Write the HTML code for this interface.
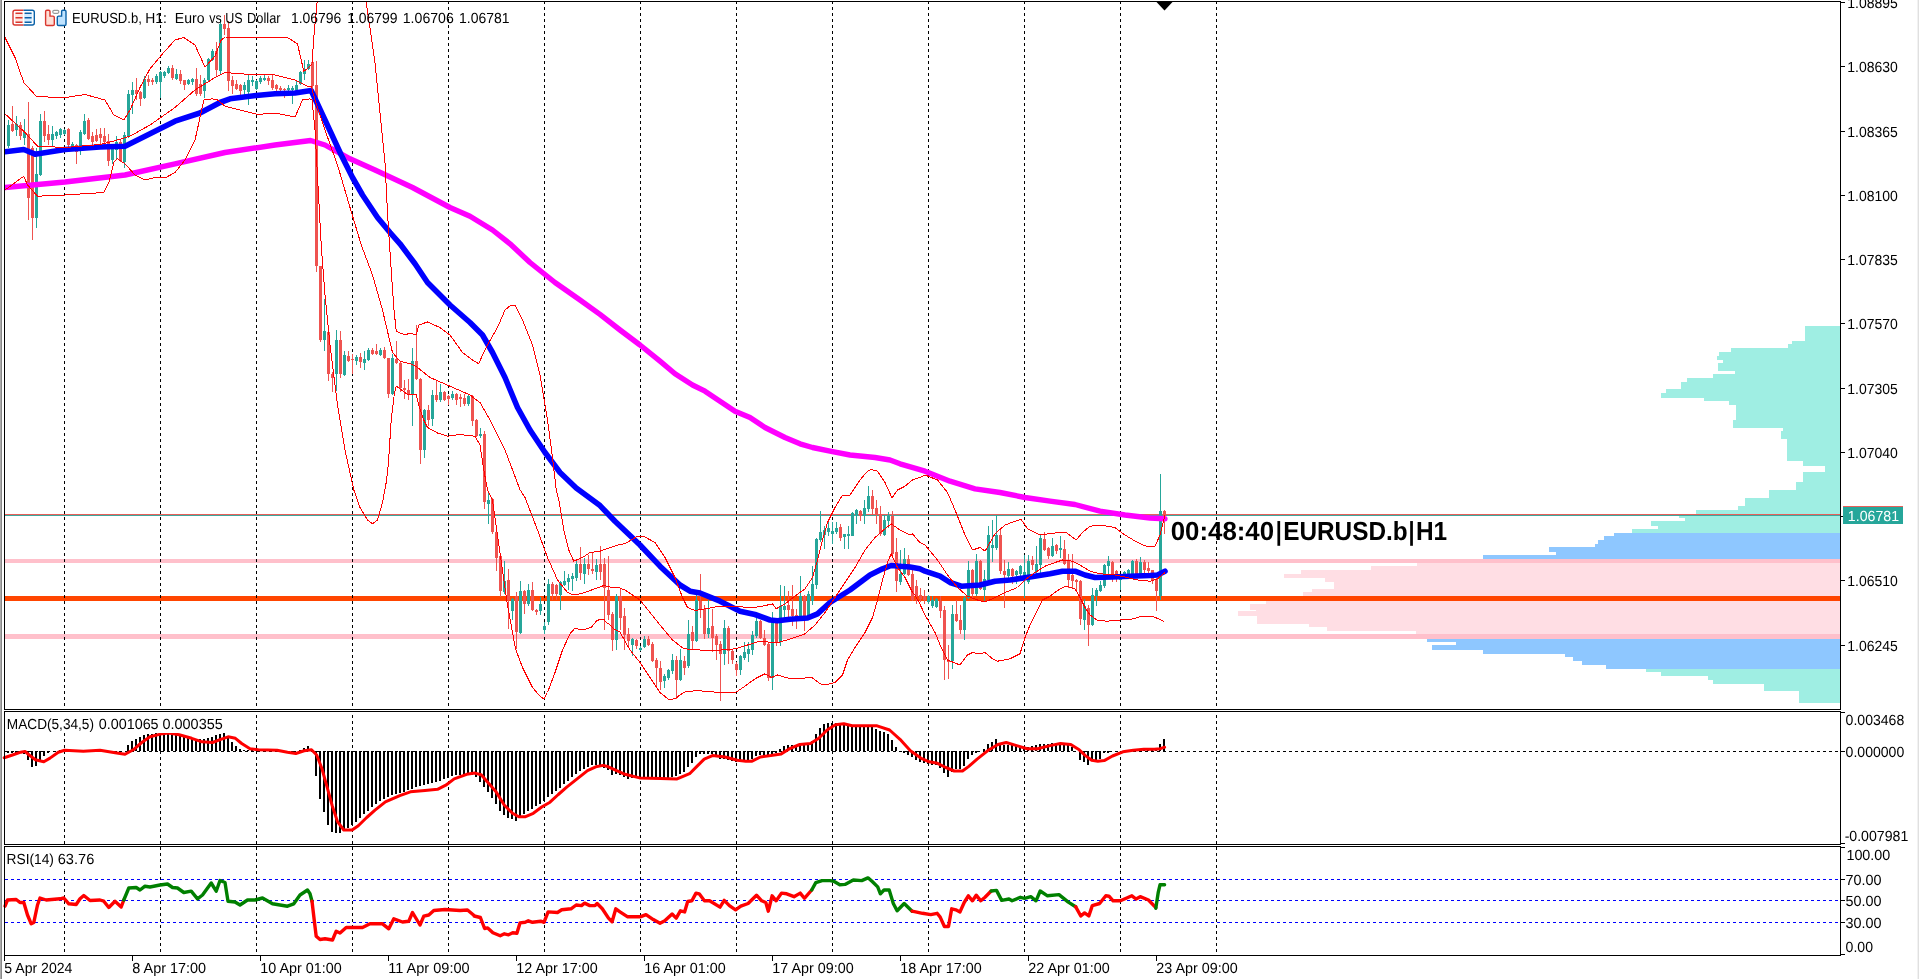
<!DOCTYPE html><html><head><meta charset="utf-8"><title>EURUSD.b H1</title><style>text{-webkit-font-smoothing:antialiased;text-rendering:geometricPrecision}svg{will-change:transform}html,body{margin:0;padding:0;background:#fff;overflow:hidden}body{width:1919px;height:979px;font-family:"Liberation Sans",sans-serif}</style></head><body><svg width="1919" height="979" viewBox="0 0 1919 979" font-family="Liberation Sans, sans-serif" style="display:block">
<rect x="0" y="0" width="1919" height="979" fill="#fff" />
<rect x="0" y="0" width="1" height="979" fill="#ABABAB" />
<rect x="1" y="0" width="1" height="979" fill="#888888" />
<rect x="1917" y="0" width="1" height="979" fill="#F2F2F2" />
<rect x="1918" y="0" width="1" height="979" fill="#E0E0E0" />
<g shape-rendering="crispEdges">
<rect x="1805" y="326" width="35" height="15" fill="#9FEEE3" />
<rect x="1792" y="341" width="48" height="3" fill="#9FEEE3" />
<rect x="1788" y="344" width="52" height="4" fill="#9FEEE3" />
<rect x="1731" y="348" width="109" height="4" fill="#9FEEE3" />
<rect x="1719" y="352" width="121" height="4" fill="#9FEEE3" />
<rect x="1717" y="356" width="123" height="4" fill="#9FEEE3" />
<rect x="1723" y="360" width="117" height="3" fill="#9FEEE3" />
<rect x="1718" y="363" width="122" height="8" fill="#9FEEE3" />
<rect x="1735" y="371" width="105" height="3" fill="#9FEEE3" />
<rect x="1713" y="374" width="127" height="4" fill="#9FEEE3" />
<rect x="1687" y="378" width="153" height="4" fill="#9FEEE3" />
<rect x="1681" y="382" width="159" height="7" fill="#9FEEE3" />
<rect x="1666" y="389" width="174" height="4" fill="#9FEEE3" />
<rect x="1661" y="393" width="179" height="5" fill="#9FEEE3" />
<rect x="1704" y="398" width="136" height="3" fill="#9FEEE3" />
<rect x="1729" y="401" width="111" height="4" fill="#9FEEE3" />
<rect x="1736" y="405" width="104" height="15" fill="#9FEEE3" />
<rect x="1733" y="420" width="107" height="8" fill="#9FEEE3" />
<rect x="1783" y="428" width="57" height="3" fill="#9FEEE3" />
<rect x="1781" y="431" width="59" height="8" fill="#9FEEE3" />
<rect x="1787" y="439" width="53" height="22" fill="#9FEEE3" />
<rect x="1803" y="461" width="37" height="5" fill="#9FEEE3" />
<rect x="1825" y="466" width="15" height="6" fill="#9FEEE3" />
<rect x="1803" y="472" width="37" height="10" fill="#9FEEE3" />
<rect x="1796" y="482" width="44" height="8" fill="#9FEEE3" />
<rect x="1769" y="490" width="71" height="8" fill="#9FEEE3" />
<rect x="1745" y="498" width="95" height="8" fill="#9FEEE3" />
<rect x="1738" y="506" width="102" height="4" fill="#9FEEE3" />
<rect x="1696" y="510" width="144" height="8" fill="#9FEEE3" />
<rect x="1679" y="516" width="161" height="2" fill="#9FEEE3" />
<rect x="1685" y="518" width="155" height="3" fill="#9FEEE3" />
<rect x="1651" y="521" width="189" height="5" fill="#9FEEE3" />
<rect x="1658" y="526" width="182" height="3" fill="#9FEEE3" />
<rect x="1632" y="529" width="208" height="4" fill="#9FEEE3" />
<rect x="1614" y="533" width="226" height="3" fill="#8EC7FF" />
<rect x="1604" y="536" width="236" height="4" fill="#8EC7FF" />
<rect x="1598" y="540" width="242" height="4" fill="#8EC7FF" />
<rect x="1595" y="544" width="245" height="3" fill="#8EC7FF" />
<rect x="1549" y="547" width="291" height="5" fill="#8EC7FF" />
<rect x="1556" y="552" width="284" height="3" fill="#8EC7FF" />
<rect x="1483" y="555" width="357" height="4" fill="#8EC7FF" />
<rect x="1417" y="563" width="423" height="3" fill="#FFDEE4" />
<rect x="1371" y="566" width="469" height="4" fill="#FFDEE4" />
<rect x="1301" y="570" width="539" height="4" fill="#FFDEE4" />
<rect x="1284" y="574" width="556" height="4" fill="#FFDEE4" />
<rect x="1325" y="578" width="515" height="4" fill="#FFDEE4" />
<rect x="1334" y="582" width="506" height="7" fill="#FFDEE4" />
<rect x="1312" y="589" width="528" height="3" fill="#FFDEE4" />
<rect x="1303" y="592" width="537" height="6" fill="#FFDEE4" />
<rect x="1266" y="598" width="574" height="6" fill="#FFDEE4" />
<rect x="1250" y="604" width="590" height="6" fill="#FFDEE4" />
<rect x="1256" y="610" width="584" height="1" fill="#FFDEE4" />
<rect x="1238" y="611" width="602" height="5" fill="#FFDEE4" />
<rect x="1257" y="616" width="583" height="8" fill="#FFDEE4" />
<rect x="1309" y="624" width="531" height="3" fill="#FFDEE4" />
<rect x="1327" y="627" width="513" height="4" fill="#FFDEE4" />
<rect x="1416" y="631" width="424" height="3" fill="#FFDEE4" />
<rect x="1427" y="639" width="413" height="3" fill="#8EC7FF" />
<rect x="1456" y="642" width="384" height="3" fill="#8EC7FF" />
<rect x="1432" y="645" width="408" height="5" fill="#8EC7FF" />
<rect x="1483" y="650" width="357" height="4" fill="#8EC7FF" />
<rect x="1565" y="654" width="275" height="3" fill="#8EC7FF" />
<rect x="1573" y="657" width="267" height="4" fill="#8EC7FF" />
<rect x="1582" y="661" width="258" height="4" fill="#8EC7FF" />
<rect x="1606" y="665" width="234" height="4" fill="#8EC7FF" />
<rect x="1646" y="669" width="194" height="3" fill="#9FEEE3" />
<rect x="1661" y="672" width="179" height="4" fill="#9FEEE3" />
<rect x="1708" y="676" width="132" height="4" fill="#9FEEE3" />
<rect x="1713" y="680" width="127" height="4" fill="#9FEEE3" />
<rect x="1764" y="684" width="76" height="7" fill="#9FEEE3" />
<rect x="1799" y="691" width="41" height="12" fill="#9FEEE3" />
<rect x="5" y="559" width="1835" height="4" fill="#FFC0CB" />
<rect x="5" y="634" width="1835" height="5" fill="#FFC0CB" />
<rect x="5" y="596" width="1835" height="5" fill="#FF4500" />
</g>
<g shape-rendering="crispEdges" stroke="#000" stroke-width="1" stroke-dasharray="3,3">
<line x1="64.5" y1="1" x2="64.5" y2="709"/>
<line x1="64.5" y1="715" x2="64.5" y2="844"/>
<line x1="64.5" y1="847" x2="64.5" y2="955"/>
<line x1="160.5" y1="1" x2="160.5" y2="709"/>
<line x1="160.5" y1="715" x2="160.5" y2="844"/>
<line x1="160.5" y1="847" x2="160.5" y2="955"/>
<line x1="256.5" y1="1" x2="256.5" y2="709"/>
<line x1="256.5" y1="715" x2="256.5" y2="844"/>
<line x1="256.5" y1="847" x2="256.5" y2="955"/>
<line x1="352.5" y1="1" x2="352.5" y2="709"/>
<line x1="352.5" y1="715" x2="352.5" y2="844"/>
<line x1="352.5" y1="847" x2="352.5" y2="955"/>
<line x1="448.5" y1="1" x2="448.5" y2="709"/>
<line x1="448.5" y1="715" x2="448.5" y2="844"/>
<line x1="448.5" y1="847" x2="448.5" y2="955"/>
<line x1="544.5" y1="1" x2="544.5" y2="709"/>
<line x1="544.5" y1="715" x2="544.5" y2="844"/>
<line x1="544.5" y1="847" x2="544.5" y2="955"/>
<line x1="640.5" y1="1" x2="640.5" y2="709"/>
<line x1="640.5" y1="715" x2="640.5" y2="844"/>
<line x1="640.5" y1="847" x2="640.5" y2="955"/>
<line x1="736.5" y1="1" x2="736.5" y2="709"/>
<line x1="736.5" y1="715" x2="736.5" y2="844"/>
<line x1="736.5" y1="847" x2="736.5" y2="955"/>
<line x1="832.5" y1="1" x2="832.5" y2="709"/>
<line x1="832.5" y1="715" x2="832.5" y2="844"/>
<line x1="832.5" y1="847" x2="832.5" y2="955"/>
<line x1="928.5" y1="1" x2="928.5" y2="709"/>
<line x1="928.5" y1="715" x2="928.5" y2="844"/>
<line x1="928.5" y1="847" x2="928.5" y2="955"/>
<line x1="1024.5" y1="1" x2="1024.5" y2="709"/>
<line x1="1024.5" y1="715" x2="1024.5" y2="844"/>
<line x1="1024.5" y1="847" x2="1024.5" y2="955"/>
<line x1="1120.5" y1="1" x2="1120.5" y2="709"/>
<line x1="1120.5" y1="715" x2="1120.5" y2="844"/>
<line x1="1120.5" y1="847" x2="1120.5" y2="955"/>
<line x1="1216.5" y1="1" x2="1216.5" y2="709"/>
<line x1="1216.5" y1="715" x2="1216.5" y2="844"/>
<line x1="1216.5" y1="847" x2="1216.5" y2="955"/>
<line x1="5" y1="751.5" x2="1840" y2="751.5"/>
</g>
<g shape-rendering="crispEdges" stroke="#0000FF" stroke-width="1" stroke-dasharray="3,3">
<line x1="5" y1="879.5" x2="1840" y2="879.5"/>
<line x1="5" y1="900.5" x2="1840" y2="900.5"/>
<line x1="5" y1="922.5" x2="1840" y2="922.5"/>
</g>
<g shape-rendering="crispEdges">
<rect x="5" y="514" width="1835" height="1" fill="#E8605A" />
<rect x="5" y="515" width="1835" height="1" fill="#3FA79D" />
</g>
<g shape-rendering="crispEdges">
<rect x="8" y="120" width="1" height="28" fill="#26A69A" />
<rect x="7" y="125" width="3" height="21" fill="#26A69A" />
<rect x="12" y="106" width="1" height="26" fill="#EF5350" />
<rect x="11" y="124" width="3" height="7" fill="#EF5350" />
<rect x="16" y="116" width="1" height="20" fill="#26A69A" />
<rect x="15" y="124" width="3" height="6" fill="#26A69A" />
<rect x="20" y="122" width="1" height="18" fill="#EF5350" />
<rect x="19" y="125" width="3" height="11" fill="#EF5350" />
<rect x="24" y="119" width="1" height="26" fill="#26A69A" />
<rect x="23" y="132" width="3" height="6" fill="#26A69A" />
<rect x="28" y="102" width="1" height="118" fill="#EF5350" />
<rect x="27" y="134" width="3" height="64" fill="#EF5350" />
<rect x="32" y="146" width="1" height="94" fill="#EF5350" />
<rect x="31" y="148" width="3" height="70" fill="#EF5350" />
<rect x="36" y="148" width="1" height="80" fill="#26A69A" />
<rect x="35" y="174" width="3" height="44" fill="#26A69A" />
<rect x="40" y="114" width="1" height="62" fill="#26A69A" />
<rect x="39" y="121" width="3" height="54" fill="#26A69A" />
<rect x="44" y="111" width="1" height="31" fill="#EF5350" />
<rect x="43" y="121" width="3" height="15" fill="#EF5350" />
<rect x="48" y="125" width="1" height="20" fill="#EF5350" />
<rect x="47" y="134" width="3" height="6" fill="#EF5350" />
<rect x="52" y="126" width="1" height="20" fill="#26A69A" />
<rect x="51" y="134" width="3" height="6" fill="#26A69A" />
<rect x="56" y="131" width="1" height="8" fill="#26A69A" />
<rect x="55" y="132" width="3" height="4" fill="#26A69A" />
<rect x="60" y="128" width="1" height="10" fill="#26A69A" />
<rect x="59" y="129" width="3" height="6" fill="#26A69A" />
<rect x="64" y="129" width="1" height="6" fill="#26A69A" />
<rect x="63" y="130" width="3" height="4" fill="#26A69A" />
<rect x="68" y="128" width="1" height="20" fill="#EF5350" />
<rect x="67" y="129" width="3" height="16" fill="#EF5350" />
<rect x="72" y="142" width="1" height="9" fill="#26A69A" />
<rect x="71" y="144" width="3" height="4" fill="#26A69A" />
<rect x="76" y="144" width="1" height="20" fill="#EF5350" />
<rect x="75" y="145" width="3" height="7" fill="#EF5350" />
<rect x="80" y="130" width="1" height="25" fill="#26A69A" />
<rect x="79" y="132" width="3" height="18" fill="#26A69A" />
<rect x="84" y="114" width="1" height="21" fill="#26A69A" />
<rect x="83" y="121" width="3" height="13" fill="#26A69A" />
<rect x="88" y="118" width="1" height="22" fill="#EF5350" />
<rect x="87" y="120" width="3" height="19" fill="#EF5350" />
<rect x="92" y="132" width="1" height="13" fill="#EF5350" />
<rect x="91" y="136" width="3" height="6" fill="#EF5350" />
<rect x="96" y="129" width="1" height="13" fill="#EF5350" />
<rect x="95" y="135" width="3" height="6" fill="#EF5350" />
<rect x="100" y="128" width="1" height="16" fill="#EF5350" />
<rect x="99" y="134" width="3" height="4" fill="#EF5350" />
<rect x="104" y="128" width="1" height="17" fill="#EF5350" />
<rect x="103" y="136" width="3" height="6" fill="#EF5350" />
<rect x="108" y="134" width="1" height="32" fill="#EF5350" />
<rect x="107" y="141" width="3" height="20" fill="#EF5350" />
<rect x="112" y="144" width="1" height="20" fill="#26A69A" />
<rect x="111" y="148" width="3" height="12" fill="#26A69A" />
<rect x="116" y="136" width="1" height="24" fill="#26A69A" />
<rect x="115" y="142" width="3" height="8" fill="#26A69A" />
<rect x="120" y="140" width="1" height="22" fill="#EF5350" />
<rect x="119" y="142" width="3" height="19" fill="#EF5350" />
<rect x="124" y="132" width="1" height="36" fill="#26A69A" />
<rect x="123" y="135" width="3" height="27" fill="#26A69A" />
<rect x="128" y="90" width="1" height="48" fill="#26A69A" />
<rect x="127" y="94" width="3" height="42" fill="#26A69A" />
<rect x="132" y="82" width="1" height="32" fill="#26A69A" />
<rect x="131" y="90" width="3" height="5" fill="#26A69A" />
<rect x="136" y="78" width="1" height="22" fill="#EF5350" />
<rect x="135" y="90" width="3" height="4" fill="#EF5350" />
<rect x="140" y="91" width="1" height="15" fill="#EF5350" />
<rect x="139" y="92" width="3" height="7" fill="#EF5350" />
<rect x="144" y="76" width="1" height="23" fill="#26A69A" />
<rect x="143" y="79" width="3" height="19" fill="#26A69A" />
<rect x="148" y="75" width="1" height="11" fill="#EF5350" />
<rect x="147" y="79" width="3" height="3" fill="#EF5350" />
<rect x="152" y="78" width="1" height="7" fill="#EF5350" />
<rect x="151" y="80" width="3" height="2" fill="#EF5350" />
<rect x="156" y="74" width="1" height="10" fill="#26A69A" />
<rect x="155" y="76" width="3" height="6" fill="#26A69A" />
<rect x="160" y="71" width="1" height="27" fill="#26A69A" />
<rect x="159" y="72" width="3" height="10" fill="#26A69A" />
<rect x="164" y="71" width="1" height="7" fill="#26A69A" />
<rect x="163" y="72" width="3" height="4" fill="#26A69A" />
<rect x="168" y="66" width="1" height="8" fill="#26A69A" />
<rect x="167" y="68" width="3" height="5" fill="#26A69A" />
<rect x="172" y="65" width="1" height="15" fill="#EF5350" />
<rect x="171" y="68" width="3" height="10" fill="#EF5350" />
<rect x="176" y="69" width="1" height="11" fill="#26A69A" />
<rect x="175" y="74" width="3" height="5" fill="#26A69A" />
<rect x="180" y="70" width="1" height="14" fill="#EF5350" />
<rect x="179" y="74" width="3" height="7" fill="#EF5350" />
<rect x="184" y="80" width="1" height="10" fill="#EF5350" />
<rect x="183" y="80" width="3" height="5" fill="#EF5350" />
<rect x="188" y="79" width="1" height="6" fill="#26A69A" />
<rect x="187" y="80" width="3" height="4" fill="#26A69A" />
<rect x="192" y="78" width="1" height="7" fill="#26A69A" />
<rect x="191" y="79" width="3" height="3" fill="#26A69A" />
<rect x="196" y="68" width="1" height="28" fill="#EF5350" />
<rect x="195" y="79" width="3" height="15" fill="#EF5350" />
<rect x="200" y="75" width="1" height="21" fill="#EF5350" />
<rect x="199" y="84" width="3" height="10" fill="#EF5350" />
<rect x="204" y="78" width="1" height="20" fill="#26A69A" />
<rect x="203" y="80" width="3" height="11" fill="#26A69A" />
<rect x="208" y="58" width="1" height="23" fill="#26A69A" />
<rect x="207" y="59" width="3" height="21" fill="#26A69A" />
<rect x="212" y="49" width="1" height="12" fill="#26A69A" />
<rect x="211" y="51" width="3" height="9" fill="#26A69A" />
<rect x="216" y="42" width="1" height="34" fill="#EF5350" />
<rect x="215" y="51" width="3" height="19" fill="#EF5350" />
<rect x="220" y="19" width="1" height="55" fill="#26A69A" />
<rect x="219" y="24" width="3" height="47" fill="#26A69A" />
<rect x="224" y="15" width="1" height="20" fill="#EF5350" />
<rect x="223" y="24" width="3" height="5" fill="#EF5350" />
<rect x="228" y="21" width="1" height="70" fill="#EF5350" />
<rect x="227" y="28" width="3" height="53" fill="#EF5350" />
<rect x="232" y="76" width="1" height="18" fill="#EF5350" />
<rect x="231" y="80" width="3" height="6" fill="#EF5350" />
<rect x="236" y="80" width="1" height="10" fill="#EF5350" />
<rect x="235" y="84" width="3" height="5" fill="#EF5350" />
<rect x="240" y="84" width="1" height="12" fill="#EF5350" />
<rect x="239" y="85" width="3" height="6" fill="#EF5350" />
<rect x="244" y="82" width="1" height="16" fill="#26A69A" />
<rect x="243" y="85" width="3" height="5" fill="#26A69A" />
<rect x="248" y="75" width="1" height="30" fill="#26A69A" />
<rect x="247" y="80" width="3" height="12" fill="#26A69A" />
<rect x="252" y="76" width="1" height="10" fill="#26A69A" />
<rect x="251" y="80" width="3" height="2" fill="#26A69A" />
<rect x="256" y="80" width="1" height="10" fill="#26A69A" />
<rect x="255" y="81" width="3" height="8" fill="#26A69A" />
<rect x="260" y="76" width="1" height="8" fill="#26A69A" />
<rect x="259" y="78" width="3" height="4" fill="#26A69A" />
<rect x="264" y="74" width="1" height="7" fill="#26A69A" />
<rect x="263" y="78" width="3" height="2" fill="#26A69A" />
<rect x="268" y="76" width="1" height="9" fill="#EF5350" />
<rect x="267" y="78" width="3" height="3" fill="#EF5350" />
<rect x="272" y="75" width="1" height="15" fill="#EF5350" />
<rect x="271" y="80" width="3" height="8" fill="#EF5350" />
<rect x="276" y="84" width="1" height="7" fill="#EF5350" />
<rect x="275" y="85" width="3" height="4" fill="#EF5350" />
<rect x="280" y="86" width="1" height="5" fill="#EF5350" />
<rect x="279" y="88" width="3" height="2" fill="#EF5350" />
<rect x="284" y="88" width="1" height="10" fill="#EF5350" />
<rect x="283" y="89" width="3" height="1" fill="#EF5350" />
<rect x="288" y="85" width="1" height="6" fill="#26A69A" />
<rect x="287" y="88" width="3" height="2" fill="#26A69A" />
<rect x="292" y="86" width="1" height="18" fill="#26A69A" />
<rect x="291" y="88" width="3" height="2" fill="#26A69A" />
<rect x="296" y="80" width="1" height="11" fill="#26A69A" />
<rect x="295" y="85" width="3" height="5" fill="#26A69A" />
<rect x="300" y="71" width="1" height="14" fill="#26A69A" />
<rect x="299" y="72" width="3" height="12" fill="#26A69A" />
<rect x="304" y="60" width="1" height="20" fill="#26A69A" />
<rect x="303" y="69" width="3" height="5" fill="#26A69A" />
<rect x="308" y="60" width="1" height="10" fill="#26A69A" />
<rect x="307" y="64" width="3" height="5" fill="#26A69A" />
<rect x="312" y="59" width="1" height="29" fill="#EF5350" />
<rect x="311" y="62" width="3" height="24" fill="#EF5350" />
<rect x="316" y="61" width="1" height="211" fill="#EF5350" />
<rect x="315" y="85" width="3" height="181" fill="#EF5350" />
<rect x="320" y="266" width="1" height="76" fill="#EF5350" />
<rect x="319" y="266" width="3" height="74" fill="#EF5350" />
<rect x="324" y="299" width="1" height="52" fill="#26A69A" />
<rect x="323" y="331" width="3" height="9" fill="#26A69A" />
<rect x="328" y="331" width="1" height="50" fill="#EF5350" />
<rect x="327" y="332" width="3" height="42" fill="#EF5350" />
<rect x="332" y="372" width="1" height="20" fill="#EF5350" />
<rect x="331" y="374" width="3" height="4" fill="#EF5350" />
<rect x="336" y="330" width="1" height="61" fill="#26A69A" />
<rect x="335" y="340" width="3" height="34" fill="#26A69A" />
<rect x="340" y="331" width="1" height="47" fill="#EF5350" />
<rect x="339" y="340" width="3" height="34" fill="#EF5350" />
<rect x="344" y="351" width="1" height="25" fill="#26A69A" />
<rect x="343" y="355" width="3" height="20" fill="#26A69A" />
<rect x="348" y="351" width="1" height="11" fill="#EF5350" />
<rect x="347" y="356" width="3" height="5" fill="#EF5350" />
<rect x="352" y="354" width="1" height="20" fill="#EF5350" />
<rect x="351" y="359" width="3" height="1" fill="#EF5350" />
<rect x="356" y="355" width="1" height="10" fill="#26A69A" />
<rect x="355" y="357" width="3" height="4" fill="#26A69A" />
<rect x="360" y="353" width="1" height="15" fill="#EF5350" />
<rect x="359" y="357" width="3" height="5" fill="#EF5350" />
<rect x="364" y="351" width="1" height="19" fill="#26A69A" />
<rect x="363" y="359" width="3" height="4" fill="#26A69A" />
<rect x="368" y="348" width="1" height="13" fill="#26A69A" />
<rect x="367" y="350" width="3" height="10" fill="#26A69A" />
<rect x="372" y="348" width="1" height="7" fill="#EF5350" />
<rect x="371" y="350" width="3" height="4" fill="#EF5350" />
<rect x="376" y="344" width="1" height="11" fill="#EF5350" />
<rect x="375" y="351" width="3" height="3" fill="#EF5350" />
<rect x="380" y="348" width="1" height="8" fill="#26A69A" />
<rect x="379" y="350" width="3" height="5" fill="#26A69A" />
<rect x="384" y="347" width="1" height="12" fill="#EF5350" />
<rect x="383" y="350" width="3" height="8" fill="#EF5350" />
<rect x="388" y="358" width="1" height="40" fill="#EF5350" />
<rect x="387" y="358" width="3" height="36" fill="#EF5350" />
<rect x="392" y="354" width="1" height="41" fill="#26A69A" />
<rect x="391" y="358" width="3" height="36" fill="#26A69A" />
<rect x="396" y="341" width="1" height="23" fill="#EF5350" />
<rect x="395" y="359" width="3" height="4" fill="#EF5350" />
<rect x="400" y="362" width="1" height="30" fill="#EF5350" />
<rect x="399" y="363" width="3" height="25" fill="#EF5350" />
<rect x="404" y="380" width="1" height="19" fill="#EF5350" />
<rect x="403" y="388" width="3" height="2" fill="#EF5350" />
<rect x="408" y="379" width="1" height="21" fill="#EF5350" />
<rect x="407" y="390" width="3" height="4" fill="#EF5350" />
<rect x="412" y="348" width="1" height="78" fill="#26A69A" />
<rect x="411" y="361" width="3" height="33" fill="#26A69A" />
<rect x="416" y="325" width="1" height="55" fill="#EF5350" />
<rect x="415" y="361" width="3" height="18" fill="#EF5350" />
<rect x="420" y="378" width="1" height="86" fill="#EF5350" />
<rect x="419" y="379" width="3" height="71" fill="#EF5350" />
<rect x="424" y="409" width="1" height="49" fill="#26A69A" />
<rect x="423" y="410" width="3" height="40" fill="#26A69A" />
<rect x="428" y="405" width="1" height="21" fill="#EF5350" />
<rect x="427" y="410" width="3" height="10" fill="#EF5350" />
<rect x="432" y="390" width="1" height="36" fill="#26A69A" />
<rect x="431" y="395" width="3" height="24" fill="#26A69A" />
<rect x="436" y="381" width="1" height="21" fill="#EF5350" />
<rect x="435" y="395" width="3" height="5" fill="#EF5350" />
<rect x="440" y="384" width="1" height="18" fill="#26A69A" />
<rect x="439" y="392" width="3" height="8" fill="#26A69A" />
<rect x="444" y="391" width="1" height="10" fill="#EF5350" />
<rect x="443" y="392" width="3" height="8" fill="#EF5350" />
<rect x="448" y="395" width="1" height="10" fill="#EF5350" />
<rect x="447" y="396" width="3" height="3" fill="#EF5350" />
<rect x="452" y="391" width="1" height="9" fill="#26A69A" />
<rect x="451" y="394" width="3" height="4" fill="#26A69A" />
<rect x="456" y="393" width="1" height="12" fill="#EF5350" />
<rect x="455" y="394" width="3" height="6" fill="#EF5350" />
<rect x="460" y="394" width="1" height="13" fill="#EF5350" />
<rect x="459" y="397" width="3" height="2" fill="#EF5350" />
<rect x="464" y="394" width="1" height="12" fill="#EF5350" />
<rect x="463" y="398" width="3" height="6" fill="#EF5350" />
<rect x="468" y="394" width="1" height="12" fill="#26A69A" />
<rect x="467" y="396" width="3" height="8" fill="#26A69A" />
<rect x="472" y="395" width="1" height="31" fill="#EF5350" />
<rect x="471" y="396" width="3" height="25" fill="#EF5350" />
<rect x="476" y="419" width="1" height="18" fill="#EF5350" />
<rect x="475" y="420" width="3" height="16" fill="#EF5350" />
<rect x="480" y="428" width="1" height="10" fill="#26A69A" />
<rect x="479" y="434" width="3" height="2" fill="#26A69A" />
<rect x="484" y="431" width="1" height="78" fill="#EF5350" />
<rect x="483" y="434" width="3" height="68" fill="#EF5350" />
<rect x="488" y="492" width="1" height="32" fill="#26A69A" />
<rect x="487" y="500" width="3" height="4" fill="#26A69A" />
<rect x="492" y="498" width="1" height="36" fill="#EF5350" />
<rect x="491" y="499" width="3" height="33" fill="#EF5350" />
<rect x="496" y="531" width="1" height="40" fill="#EF5350" />
<rect x="495" y="532" width="3" height="26" fill="#EF5350" />
<rect x="500" y="555" width="1" height="42" fill="#EF5350" />
<rect x="499" y="556" width="3" height="35" fill="#EF5350" />
<rect x="504" y="561" width="1" height="33" fill="#26A69A" />
<rect x="503" y="581" width="3" height="11" fill="#26A69A" />
<rect x="508" y="569" width="1" height="60" fill="#EF5350" />
<rect x="507" y="580" width="3" height="20" fill="#EF5350" />
<rect x="512" y="598" width="1" height="22" fill="#26A69A" />
<rect x="511" y="599" width="3" height="12" fill="#26A69A" />
<rect x="516" y="592" width="1" height="57" fill="#EF5350" />
<rect x="515" y="596" width="3" height="36" fill="#EF5350" />
<rect x="520" y="581" width="1" height="53" fill="#26A69A" />
<rect x="519" y="591" width="3" height="42" fill="#26A69A" />
<rect x="524" y="590" width="1" height="24" fill="#EF5350" />
<rect x="523" y="591" width="3" height="13" fill="#EF5350" />
<rect x="528" y="584" width="1" height="22" fill="#26A69A" />
<rect x="527" y="590" width="3" height="14" fill="#26A69A" />
<rect x="532" y="582" width="1" height="29" fill="#EF5350" />
<rect x="531" y="590" width="3" height="20" fill="#EF5350" />
<rect x="536" y="609" width="1" height="6" fill="#EF5350" />
<rect x="535" y="610" width="3" height="2" fill="#EF5350" />
<rect x="540" y="597" width="1" height="18" fill="#26A69A" />
<rect x="539" y="604" width="3" height="7" fill="#26A69A" />
<rect x="544" y="622" width="1" height="12" fill="#26A69A" />
<rect x="543" y="626" width="3" height="4" fill="#26A69A" />
<rect x="548" y="579" width="1" height="46" fill="#26A69A" />
<rect x="547" y="584" width="3" height="38" fill="#26A69A" />
<rect x="552" y="582" width="1" height="18" fill="#EF5350" />
<rect x="551" y="584" width="3" height="10" fill="#EF5350" />
<rect x="556" y="584" width="1" height="16" fill="#EF5350" />
<rect x="555" y="585" width="3" height="9" fill="#EF5350" />
<rect x="560" y="581" width="1" height="29" fill="#26A69A" />
<rect x="559" y="582" width="3" height="13" fill="#26A69A" />
<rect x="564" y="571" width="1" height="15" fill="#26A69A" />
<rect x="563" y="581" width="3" height="4" fill="#26A69A" />
<rect x="568" y="574" width="1" height="16" fill="#26A69A" />
<rect x="567" y="578" width="3" height="4" fill="#26A69A" />
<rect x="572" y="573" width="1" height="18" fill="#26A69A" />
<rect x="571" y="576" width="3" height="3" fill="#26A69A" />
<rect x="576" y="561" width="1" height="20" fill="#26A69A" />
<rect x="575" y="564" width="3" height="14" fill="#26A69A" />
<rect x="580" y="547" width="1" height="33" fill="#EF5350" />
<rect x="579" y="564" width="3" height="9" fill="#EF5350" />
<rect x="584" y="558" width="1" height="26" fill="#26A69A" />
<rect x="583" y="564" width="3" height="10" fill="#26A69A" />
<rect x="588" y="555" width="1" height="20" fill="#EF5350" />
<rect x="587" y="564" width="3" height="5" fill="#EF5350" />
<rect x="592" y="552" width="1" height="22" fill="#EF5350" />
<rect x="591" y="569" width="3" height="2" fill="#EF5350" />
<rect x="596" y="559" width="1" height="21" fill="#26A69A" />
<rect x="595" y="565" width="3" height="7" fill="#26A69A" />
<rect x="600" y="546" width="1" height="34" fill="#EF5350" />
<rect x="599" y="564" width="3" height="8" fill="#EF5350" />
<rect x="604" y="558" width="1" height="72" fill="#EF5350" />
<rect x="603" y="564" width="3" height="24" fill="#EF5350" />
<rect x="608" y="556" width="1" height="64" fill="#EF5350" />
<rect x="607" y="590" width="3" height="25" fill="#EF5350" />
<rect x="612" y="612" width="1" height="39" fill="#EF5350" />
<rect x="611" y="614" width="3" height="26" fill="#EF5350" />
<rect x="616" y="594" width="1" height="56" fill="#26A69A" />
<rect x="615" y="596" width="3" height="44" fill="#26A69A" />
<rect x="620" y="588" width="1" height="42" fill="#EF5350" />
<rect x="619" y="596" width="3" height="22" fill="#EF5350" />
<rect x="624" y="608" width="1" height="42" fill="#EF5350" />
<rect x="623" y="616" width="3" height="19" fill="#EF5350" />
<rect x="628" y="628" width="1" height="20" fill="#EF5350" />
<rect x="627" y="634" width="3" height="7" fill="#EF5350" />
<rect x="632" y="638" width="1" height="18" fill="#26A69A" />
<rect x="631" y="639" width="3" height="6" fill="#26A69A" />
<rect x="636" y="639" width="1" height="10" fill="#EF5350" />
<rect x="635" y="640" width="3" height="6" fill="#EF5350" />
<rect x="640" y="646" width="1" height="5" fill="#26A69A" />
<rect x="639" y="648" width="3" height="2" fill="#26A69A" />
<rect x="644" y="636" width="1" height="12" fill="#26A69A" />
<rect x="643" y="639" width="3" height="8" fill="#26A69A" />
<rect x="648" y="636" width="1" height="10" fill="#EF5350" />
<rect x="647" y="639" width="3" height="6" fill="#EF5350" />
<rect x="652" y="642" width="1" height="20" fill="#EF5350" />
<rect x="651" y="644" width="3" height="17" fill="#EF5350" />
<rect x="656" y="658" width="1" height="30" fill="#EF5350" />
<rect x="655" y="660" width="3" height="8" fill="#EF5350" />
<rect x="660" y="661" width="1" height="29" fill="#EF5350" />
<rect x="659" y="668" width="3" height="14" fill="#EF5350" />
<rect x="664" y="674" width="1" height="14" fill="#26A69A" />
<rect x="663" y="676" width="3" height="5" fill="#26A69A" />
<rect x="668" y="669" width="1" height="11" fill="#26A69A" />
<rect x="667" y="670" width="3" height="8" fill="#26A69A" />
<rect x="672" y="654" width="1" height="20" fill="#26A69A" />
<rect x="671" y="660" width="3" height="11" fill="#26A69A" />
<rect x="676" y="656" width="1" height="43" fill="#EF5350" />
<rect x="675" y="660" width="3" height="20" fill="#EF5350" />
<rect x="680" y="649" width="1" height="32" fill="#26A69A" />
<rect x="679" y="660" width="3" height="20" fill="#26A69A" />
<rect x="684" y="656" width="1" height="19" fill="#EF5350" />
<rect x="683" y="661" width="3" height="7" fill="#EF5350" />
<rect x="688" y="620" width="1" height="48" fill="#26A69A" />
<rect x="687" y="634" width="3" height="32" fill="#26A69A" />
<rect x="692" y="626" width="1" height="23" fill="#EF5350" />
<rect x="691" y="632" width="3" height="9" fill="#EF5350" />
<rect x="696" y="592" width="1" height="50" fill="#26A69A" />
<rect x="695" y="600" width="3" height="41" fill="#26A69A" />
<rect x="700" y="574" width="1" height="44" fill="#EF5350" />
<rect x="699" y="601" width="3" height="9" fill="#EF5350" />
<rect x="704" y="605" width="1" height="34" fill="#EF5350" />
<rect x="703" y="609" width="3" height="25" fill="#EF5350" />
<rect x="708" y="600" width="1" height="38" fill="#26A69A" />
<rect x="707" y="628" width="3" height="6" fill="#26A69A" />
<rect x="712" y="609" width="1" height="43" fill="#EF5350" />
<rect x="711" y="626" width="3" height="12" fill="#EF5350" />
<rect x="716" y="634" width="1" height="26" fill="#EF5350" />
<rect x="715" y="636" width="3" height="9" fill="#EF5350" />
<rect x="720" y="641" width="1" height="60" fill="#EF5350" />
<rect x="719" y="644" width="3" height="10" fill="#EF5350" />
<rect x="724" y="620" width="1" height="45" fill="#26A69A" />
<rect x="723" y="628" width="3" height="26" fill="#26A69A" />
<rect x="728" y="626" width="1" height="38" fill="#EF5350" />
<rect x="727" y="628" width="3" height="23" fill="#EF5350" />
<rect x="732" y="650" width="1" height="14" fill="#EF5350" />
<rect x="731" y="651" width="3" height="9" fill="#EF5350" />
<rect x="736" y="662" width="1" height="14" fill="#EF5350" />
<rect x="735" y="664" width="3" height="6" fill="#EF5350" />
<rect x="740" y="655" width="1" height="20" fill="#26A69A" />
<rect x="739" y="656" width="3" height="14" fill="#26A69A" />
<rect x="744" y="642" width="1" height="18" fill="#26A69A" />
<rect x="743" y="652" width="3" height="6" fill="#26A69A" />
<rect x="748" y="642" width="1" height="20" fill="#26A69A" />
<rect x="747" y="649" width="3" height="5" fill="#26A69A" />
<rect x="752" y="631" width="1" height="24" fill="#26A69A" />
<rect x="751" y="635" width="3" height="15" fill="#26A69A" />
<rect x="756" y="618" width="1" height="20" fill="#26A69A" />
<rect x="755" y="621" width="3" height="15" fill="#26A69A" />
<rect x="760" y="620" width="1" height="19" fill="#EF5350" />
<rect x="759" y="621" width="3" height="17" fill="#EF5350" />
<rect x="764" y="630" width="1" height="16" fill="#EF5350" />
<rect x="763" y="638" width="3" height="7" fill="#EF5350" />
<rect x="768" y="642" width="1" height="39" fill="#EF5350" />
<rect x="767" y="644" width="3" height="34" fill="#EF5350" />
<rect x="772" y="612" width="1" height="78" fill="#26A69A" />
<rect x="771" y="621" width="3" height="57" fill="#26A69A" />
<rect x="776" y="620" width="1" height="26" fill="#EF5350" />
<rect x="775" y="622" width="3" height="20" fill="#EF5350" />
<rect x="780" y="585" width="1" height="61" fill="#26A69A" />
<rect x="779" y="606" width="3" height="36" fill="#26A69A" />
<rect x="784" y="586" width="1" height="32" fill="#26A69A" />
<rect x="783" y="606" width="3" height="4" fill="#26A69A" />
<rect x="788" y="591" width="1" height="27" fill="#EF5350" />
<rect x="787" y="605" width="3" height="5" fill="#EF5350" />
<rect x="792" y="585" width="1" height="41" fill="#EF5350" />
<rect x="791" y="609" width="3" height="7" fill="#EF5350" />
<rect x="796" y="609" width="1" height="20" fill="#EF5350" />
<rect x="795" y="615" width="3" height="3" fill="#EF5350" />
<rect x="800" y="576" width="1" height="43" fill="#26A69A" />
<rect x="799" y="596" width="3" height="22" fill="#26A69A" />
<rect x="804" y="595" width="1" height="36" fill="#EF5350" />
<rect x="803" y="596" width="3" height="20" fill="#EF5350" />
<rect x="808" y="591" width="1" height="29" fill="#26A69A" />
<rect x="807" y="594" width="3" height="24" fill="#26A69A" />
<rect x="812" y="566" width="1" height="39" fill="#26A69A" />
<rect x="811" y="584" width="3" height="17" fill="#26A69A" />
<rect x="816" y="538" width="1" height="51" fill="#26A69A" />
<rect x="815" y="539" width="3" height="46" fill="#26A69A" />
<rect x="820" y="511" width="1" height="31" fill="#26A69A" />
<rect x="819" y="532" width="3" height="8" fill="#26A69A" />
<rect x="824" y="526" width="1" height="23" fill="#26A69A" />
<rect x="823" y="530" width="3" height="5" fill="#26A69A" />
<rect x="828" y="522" width="1" height="14" fill="#26A69A" />
<rect x="827" y="528" width="3" height="4" fill="#26A69A" />
<rect x="832" y="522" width="1" height="22" fill="#26A69A" />
<rect x="831" y="531" width="3" height="3" fill="#26A69A" />
<rect x="836" y="522" width="1" height="12" fill="#26A69A" />
<rect x="835" y="528" width="3" height="4" fill="#26A69A" />
<rect x="840" y="524" width="1" height="17" fill="#EF5350" />
<rect x="839" y="527" width="3" height="11" fill="#EF5350" />
<rect x="844" y="534" width="1" height="15" fill="#26A69A" />
<rect x="843" y="534" width="3" height="3" fill="#26A69A" />
<rect x="848" y="526" width="1" height="23" fill="#26A69A" />
<rect x="847" y="534" width="3" height="2" fill="#26A69A" />
<rect x="852" y="512" width="1" height="24" fill="#26A69A" />
<rect x="851" y="513" width="3" height="23" fill="#26A69A" />
<rect x="856" y="509" width="1" height="15" fill="#26A69A" />
<rect x="855" y="510" width="3" height="5" fill="#26A69A" />
<rect x="860" y="510" width="1" height="11" fill="#EF5350" />
<rect x="859" y="511" width="3" height="5" fill="#EF5350" />
<rect x="864" y="500" width="1" height="24" fill="#26A69A" />
<rect x="863" y="508" width="3" height="8" fill="#26A69A" />
<rect x="868" y="486" width="1" height="26" fill="#26A69A" />
<rect x="867" y="496" width="3" height="13" fill="#26A69A" />
<rect x="872" y="490" width="1" height="25" fill="#EF5350" />
<rect x="871" y="496" width="3" height="13" fill="#EF5350" />
<rect x="876" y="500" width="1" height="24" fill="#EF5350" />
<rect x="875" y="508" width="3" height="7" fill="#EF5350" />
<rect x="880" y="506" width="1" height="30" fill="#EF5350" />
<rect x="879" y="514" width="3" height="20" fill="#EF5350" />
<rect x="884" y="515" width="1" height="21" fill="#26A69A" />
<rect x="883" y="520" width="3" height="15" fill="#26A69A" />
<rect x="888" y="512" width="1" height="16" fill="#26A69A" />
<rect x="887" y="516" width="3" height="5" fill="#26A69A" />
<rect x="892" y="511" width="1" height="45" fill="#EF5350" />
<rect x="891" y="516" width="3" height="38" fill="#EF5350" />
<rect x="896" y="538" width="1" height="54" fill="#EF5350" />
<rect x="895" y="552" width="3" height="29" fill="#EF5350" />
<rect x="900" y="550" width="1" height="35" fill="#26A69A" />
<rect x="899" y="574" width="3" height="8" fill="#26A69A" />
<rect x="904" y="548" width="1" height="27" fill="#26A69A" />
<rect x="903" y="559" width="3" height="15" fill="#26A69A" />
<rect x="908" y="555" width="1" height="21" fill="#EF5350" />
<rect x="907" y="559" width="3" height="16" fill="#EF5350" />
<rect x="912" y="570" width="1" height="31" fill="#EF5350" />
<rect x="911" y="574" width="3" height="26" fill="#EF5350" />
<rect x="916" y="580" width="1" height="24" fill="#EF5350" />
<rect x="915" y="586" width="3" height="10" fill="#EF5350" />
<rect x="920" y="588" width="1" height="14" fill="#EF5350" />
<rect x="919" y="595" width="3" height="4" fill="#EF5350" />
<rect x="924" y="590" width="1" height="14" fill="#EF5350" />
<rect x="923" y="596" width="3" height="4" fill="#EF5350" />
<rect x="928" y="595" width="1" height="9" fill="#26A69A" />
<rect x="927" y="596" width="3" height="6" fill="#26A69A" />
<rect x="932" y="596" width="1" height="12" fill="#26A69A" />
<rect x="931" y="600" width="3" height="6" fill="#26A69A" />
<rect x="936" y="598" width="1" height="10" fill="#26A69A" />
<rect x="935" y="599" width="3" height="8" fill="#26A69A" />
<rect x="940" y="596" width="1" height="22" fill="#EF5350" />
<rect x="939" y="601" width="3" height="10" fill="#EF5350" />
<rect x="944" y="606" width="1" height="74" fill="#EF5350" />
<rect x="943" y="610" width="3" height="50" fill="#EF5350" />
<rect x="948" y="645" width="1" height="34" fill="#EF5350" />
<rect x="947" y="660" width="3" height="2" fill="#EF5350" />
<rect x="952" y="605" width="1" height="64" fill="#26A69A" />
<rect x="951" y="614" width="3" height="47" fill="#26A69A" />
<rect x="956" y="600" width="1" height="22" fill="#EF5350" />
<rect x="955" y="614" width="3" height="7" fill="#EF5350" />
<rect x="960" y="605" width="1" height="29" fill="#EF5350" />
<rect x="959" y="620" width="3" height="10" fill="#EF5350" />
<rect x="964" y="596" width="1" height="44" fill="#26A69A" />
<rect x="963" y="598" width="3" height="32" fill="#26A69A" />
<rect x="968" y="561" width="1" height="38" fill="#26A69A" />
<rect x="967" y="570" width="3" height="28" fill="#26A69A" />
<rect x="972" y="569" width="1" height="31" fill="#EF5350" />
<rect x="971" y="570" width="3" height="24" fill="#EF5350" />
<rect x="976" y="554" width="1" height="42" fill="#26A69A" />
<rect x="975" y="561" width="3" height="33" fill="#26A69A" />
<rect x="980" y="560" width="1" height="30" fill="#EF5350" />
<rect x="979" y="561" width="3" height="28" fill="#EF5350" />
<rect x="984" y="570" width="1" height="31" fill="#26A69A" />
<rect x="983" y="579" width="3" height="11" fill="#26A69A" />
<rect x="988" y="526" width="1" height="55" fill="#26A69A" />
<rect x="987" y="535" width="3" height="45" fill="#26A69A" />
<rect x="992" y="520" width="1" height="42" fill="#26A69A" />
<rect x="991" y="545" width="3" height="3" fill="#26A69A" />
<rect x="996" y="515" width="1" height="35" fill="#26A69A" />
<rect x="995" y="535" width="3" height="13" fill="#26A69A" />
<rect x="1000" y="530" width="1" height="44" fill="#EF5350" />
<rect x="999" y="535" width="3" height="36" fill="#EF5350" />
<rect x="1004" y="560" width="1" height="48" fill="#EF5350" />
<rect x="1003" y="571" width="3" height="4" fill="#EF5350" />
<rect x="1008" y="562" width="1" height="16" fill="#26A69A" />
<rect x="1007" y="569" width="3" height="7" fill="#26A69A" />
<rect x="1012" y="568" width="1" height="16" fill="#EF5350" />
<rect x="1011" y="569" width="3" height="7" fill="#EF5350" />
<rect x="1016" y="570" width="1" height="14" fill="#26A69A" />
<rect x="1015" y="571" width="3" height="4" fill="#26A69A" />
<rect x="1020" y="565" width="1" height="13" fill="#26A69A" />
<rect x="1019" y="566" width="3" height="8" fill="#26A69A" />
<rect x="1024" y="555" width="1" height="43" fill="#26A69A" />
<rect x="1023" y="572" width="3" height="4" fill="#26A69A" />
<rect x="1028" y="555" width="1" height="29" fill="#26A69A" />
<rect x="1027" y="561" width="3" height="21" fill="#26A69A" />
<rect x="1032" y="556" width="1" height="14" fill="#EF5350" />
<rect x="1031" y="560" width="3" height="5" fill="#EF5350" />
<rect x="1036" y="546" width="1" height="28" fill="#26A69A" />
<rect x="1035" y="564" width="3" height="8" fill="#26A69A" />
<rect x="1040" y="535" width="1" height="41" fill="#26A69A" />
<rect x="1039" y="538" width="3" height="27" fill="#26A69A" />
<rect x="1044" y="532" width="1" height="19" fill="#EF5350" />
<rect x="1043" y="539" width="3" height="11" fill="#EF5350" />
<rect x="1048" y="547" width="1" height="12" fill="#EF5350" />
<rect x="1047" y="548" width="3" height="8" fill="#EF5350" />
<rect x="1052" y="538" width="1" height="19" fill="#26A69A" />
<rect x="1051" y="546" width="3" height="10" fill="#26A69A" />
<rect x="1056" y="544" width="1" height="10" fill="#EF5350" />
<rect x="1055" y="545" width="3" height="6" fill="#EF5350" />
<rect x="1060" y="536" width="1" height="22" fill="#26A69A" />
<rect x="1059" y="548" width="3" height="2" fill="#26A69A" />
<rect x="1064" y="540" width="1" height="25" fill="#EF5350" />
<rect x="1063" y="549" width="3" height="15" fill="#EF5350" />
<rect x="1068" y="554" width="1" height="34" fill="#EF5350" />
<rect x="1067" y="561" width="3" height="19" fill="#EF5350" />
<rect x="1072" y="554" width="1" height="34" fill="#EF5350" />
<rect x="1071" y="575" width="3" height="6" fill="#EF5350" />
<rect x="1076" y="579" width="1" height="11" fill="#EF5350" />
<rect x="1075" y="580" width="3" height="2" fill="#EF5350" />
<rect x="1080" y="580" width="1" height="45" fill="#EF5350" />
<rect x="1079" y="581" width="3" height="38" fill="#EF5350" />
<rect x="1084" y="599" width="1" height="31" fill="#26A69A" />
<rect x="1083" y="606" width="3" height="14" fill="#26A69A" />
<rect x="1088" y="605" width="1" height="41" fill="#EF5350" />
<rect x="1087" y="608" width="3" height="17" fill="#EF5350" />
<rect x="1092" y="588" width="1" height="38" fill="#26A69A" />
<rect x="1091" y="595" width="3" height="30" fill="#26A69A" />
<rect x="1096" y="588" width="1" height="18" fill="#26A69A" />
<rect x="1095" y="590" width="3" height="6" fill="#26A69A" />
<rect x="1100" y="581" width="1" height="11" fill="#26A69A" />
<rect x="1099" y="585" width="3" height="6" fill="#26A69A" />
<rect x="1104" y="564" width="1" height="24" fill="#26A69A" />
<rect x="1103" y="565" width="3" height="21" fill="#26A69A" />
<rect x="1108" y="556" width="1" height="18" fill="#26A69A" />
<rect x="1107" y="561" width="3" height="5" fill="#26A69A" />
<rect x="1112" y="561" width="1" height="21" fill="#EF5350" />
<rect x="1111" y="562" width="3" height="12" fill="#EF5350" />
<rect x="1116" y="570" width="1" height="12" fill="#EF5350" />
<rect x="1115" y="571" width="3" height="5" fill="#EF5350" />
<rect x="1120" y="574" width="1" height="16" fill="#26A69A" />
<rect x="1119" y="575" width="3" height="5" fill="#26A69A" />
<rect x="1124" y="571" width="1" height="7" fill="#26A69A" />
<rect x="1123" y="572" width="3" height="5" fill="#26A69A" />
<rect x="1128" y="569" width="1" height="7" fill="#26A69A" />
<rect x="1127" y="570" width="3" height="5" fill="#26A69A" />
<rect x="1132" y="560" width="1" height="18" fill="#26A69A" />
<rect x="1131" y="561" width="3" height="15" fill="#26A69A" />
<rect x="1136" y="559" width="1" height="16" fill="#EF5350" />
<rect x="1135" y="561" width="3" height="13" fill="#EF5350" />
<rect x="1140" y="557" width="1" height="18" fill="#26A69A" />
<rect x="1139" y="562" width="3" height="12" fill="#26A69A" />
<rect x="1144" y="560" width="1" height="14" fill="#EF5350" />
<rect x="1143" y="562" width="3" height="8" fill="#EF5350" />
<rect x="1148" y="562" width="1" height="12" fill="#EF5350" />
<rect x="1147" y="568" width="3" height="3" fill="#EF5350" />
<rect x="1152" y="570" width="1" height="14" fill="#EF5350" />
<rect x="1151" y="570" width="3" height="10" fill="#EF5350" />
<rect x="1156" y="578" width="1" height="33" fill="#EF5350" />
<rect x="1155" y="579" width="3" height="12" fill="#EF5350" />
<rect x="1160" y="474" width="1" height="126" fill="#26A69A" />
<rect x="1159" y="511" width="3" height="85" fill="#26A69A" />
<rect x="1164" y="510" width="1" height="24" fill="#EF5350" />
<rect x="1163" y="511" width="3" height="5" fill="#EF5350" />
</g>
<clipPath id="cm"><rect x="5" y="2" width="1835" height="707"/></clipPath>
<g clip-path="url(#cm)">
<polyline points="5.0,187.5 65.0,182.0 125.0,175.0 175.0,163.8 225.0,152.5 275.0,145.0 310.6,140.5 325.0,145.0 350.0,158.8 375.0,170.0 412.5,187.5 450.0,207.5 470.0,216.2 492.5,230.0 510.0,243.8 530.0,262.5 555.0,282.5 580.0,300.0 600.0,314.4 620.0,330.0 640.0,345.0 660.0,361.2 675.0,373.8 692.5,385.0 705.0,391.2 720.0,401.2 735.0,411.2 750.0,417.5 765.0,427.5 785.0,437.5 800.0,443.8 812.5,447.5 830.0,451.2 850.0,455.0 875.0,457.5 890.0,460.0 900.0,463.8 925.0,471.2 950.0,481.2 975.0,488.8 1000.0,492.5 1025.0,497.5 1050.0,501.2 1075.0,504.5 1100.0,511.2 1125.0,515.0 1150.0,518.0 1165.0,518.8" fill="none" stroke="#FF00FF" stroke-width="5.4" stroke-linejoin="round" stroke-linecap="round"/>
<polyline points="5.0,151.8 23.8,149.5 35.0,154.2 65.0,149.5 100.0,147.0 125.0,146.2 150.0,133.8 175.0,121.2 200.0,113.0 220.0,102.5 230.0,98.8 256.2,95.5 275.0,93.8 295.0,93.0 311.2,90.5 325.0,120.0 341.2,155.0 352.5,177.5 362.5,195.0 377.5,217.5 390.0,232.5 400.0,243.8 415.0,263.8 427.5,282.5 450.0,305.0 470.0,322.5 482.5,335.0 492.5,352.5 505.0,377.5 517.5,407.5 530.0,430.0 545.0,452.5 560.0,472.5 576.2,488.1 600.0,505.6 615.0,521.2 640.0,545.0 660.0,566.2 680.0,585.0 690.0,591.2 700.0,593.0 720.0,601.2 740.0,611.2 755.0,614.5 770.0,620.0 777.5,620.8 790.0,619.2 807.5,618.0 817.5,613.8 830.0,602.5 850.0,590.0 870.0,575.0 882.5,568.8 891.2,565.5 900.0,566.2 910.0,567.0 919.8,568.8 925.0,571.2 940.0,576.2 950.0,582.5 961.2,586.2 980.0,585.0 995.0,581.2 1010.0,580.0 1030.0,577.0 1050.0,573.8 1062.5,571.2 1075.0,571.2 1085.0,575.0 1095.0,577.5 1112.5,577.0 1130.0,576.2 1150.0,575.5 1157.5,575.0 1165.0,571.2" fill="none" stroke="#0000FF" stroke-width="5.6" stroke-linejoin="round" stroke-linecap="round"/>
<polyline points="5.0,37.5 15.0,57.5 23.8,82.5 36.2,96.2 62.5,98.0 85.0,94.5 105.0,100.0 113.8,115.0 123.8,120.0 130.0,110.0 140.0,87.5 150.0,68.8 162.5,53.8 175.0,40.0 183.8,37.5 195.0,45.0 200.0,56.2 205.0,67.0 215.0,56.2 221.2,40.0 225.0,37.0 250.0,37.5 287.5,37.5 297.5,43.8 301.2,60.0 303.8,71.2 307.5,68.8 312.0,63.8 313.8,37.5 317.5,-2.5" fill="none" stroke="#FF0000" stroke-width="1" stroke-linejoin="round" shape-rendering="crispEdges"/>
<polyline points="365.5,-2.5 375.0,62.5 380.0,112.5 385.0,162.5 387.5,212.5 389.5,244.8 391.2,270.0 393.8,307.5 396.2,331.2 405.0,335.0 410.0,333.0 416.2,335.0 418.8,325.0 427.5,322.0 440.0,327.5 450.0,335.0 462.5,352.5 472.5,360.0 478.8,363.8 482.5,355.0 487.5,345.0 497.5,327.5 505.0,310.0 510.0,305.8 515.5,305.8 522.5,320.0 532.5,345.0 540.0,375.0 547.5,420.0 552.5,457.5 556.2,489.8 558.8,500.0 563.8,530.0 568.8,550.0 573.8,561.2 582.5,557.5 590.0,552.5 600.0,551.2 610.0,547.5 619.8,544.5 625.0,543.8 637.5,536.2 645.0,537.0 655.0,542.5 665.0,557.5 675.0,577.5 682.5,597.5 687.5,607.5 695.0,610.5 705.0,608.8 720.0,606.2 737.5,606.2 750.0,608.0 762.5,606.2 772.5,603.8 776.2,608.8 785.0,603.8 795.0,596.2 805.0,588.8 812.5,577.5 817.5,560.0 822.5,540.0 827.5,522.5 835.0,507.5 842.5,495.0 850.0,495.0 860.0,480.0 867.5,471.2 871.2,469.5 877.5,471.2 885.0,482.5 892.0,498.0 897.5,490.0 905.0,486.2 912.5,480.0 919.8,477.5 925.0,475.0 937.5,480.0 947.5,492.5 955.0,510.0 965.0,535.0 972.5,550.0 980.0,547.5 985.0,551.2 995.0,533.8 1005.0,525.0 1015.0,521.2 1021.2,519.5 1027.5,528.8 1040.0,535.0 1055.0,533.0 1066.2,532.5 1076.2,540.0 1082.5,532.5 1090.0,526.2 1100.0,525.0 1115.0,527.5 1125.0,535.0 1137.5,542.5 1146.2,546.2 1155.0,546.2 1160.0,535.0 1165.0,515.0" fill="none" stroke="#FF0000" stroke-width="1" stroke-linejoin="round" shape-rendering="crispEdges"/>
<polyline points="5.0,113.8 25.0,132.5 37.5,146.2 65.0,147.5 100.0,144.5 117.5,140.0 130.0,136.2 150.0,125.0 175.0,107.5 195.0,90.0 215.0,77.5 225.0,72.5 250.0,74.5 275.0,75.0 295.0,80.0 307.5,86.2 311.2,86.2 315.0,100.0 325.0,130.0 337.5,165.0 350.0,207.5 361.2,244.8 372.5,275.0 382.5,310.0 392.5,352.5 400.0,361.2 412.5,364.5 417.5,367.5 430.0,377.5 450.0,386.2 470.0,395.0 480.0,402.5 490.0,420.0 505.0,450.0 520.0,489.8 525.0,497.5 537.5,530.0 547.5,557.5 557.5,580.0 567.5,592.5 573.8,595.0 582.5,593.2 595.0,588.8 603.8,585.5 612.5,587.5 615.0,587.0 619.8,588.0 625.0,590.0 640.0,600.0 650.0,612.5 660.0,625.0 672.5,640.0 683.8,648.8 700.0,650.0 715.0,650.5 735.0,648.8 747.5,645.0 760.0,641.2 772.5,642.5 780.0,642.0 795.0,637.5 805.0,633.8 815.0,625.0 825.0,612.5 835.0,597.5 845.0,582.5 855.0,567.5 865.0,550.0 875.0,537.5 885.0,528.8 891.2,523.8 900.0,530.0 910.0,535.0 912.5,533.8 919.8,542.5 925.0,545.0 937.5,560.0 947.5,575.0 957.5,587.5 967.5,596.2 977.5,600.0 985.0,602.0 995.0,597.5 1005.0,592.5 1017.5,587.5 1025.0,580.0 1035.0,572.5 1045.0,566.2 1055.0,562.5 1062.5,560.0 1072.5,561.2 1080.0,565.0 1090.0,571.2 1100.0,573.8 1115.0,575.0 1125.0,577.0 1137.5,580.0 1150.0,581.2 1157.5,578.8 1165.0,572.5" fill="none" stroke="#FF0000" stroke-width="1" stroke-linejoin="round" shape-rendering="crispEdges"/>
<polyline points="5.0,190.0 23.8,176.2 27.5,185.0 37.5,196.2 65.0,195.0 103.8,192.5 108.8,182.5 113.8,162.5 117.5,158.8 125.0,163.8 135.0,175.0 145.0,180.0 155.0,177.5 165.0,178.0 175.0,172.5 185.0,160.0 195.0,140.0 200.0,117.5 203.8,100.0 212.5,98.8 217.5,100.0 225.0,106.2 250.0,112.5 257.5,114.5 275.0,113.0 295.0,117.0 302.5,100.0 310.0,98.8 312.0,100.0 315.0,130.0 318.8,200.0 321.2,244.8 325.0,295.0 330.0,345.0 337.5,405.0 345.0,450.0 353.8,489.9 360.0,507.5 367.5,520.0 372.5,523.8 377.5,520.0 382.5,502.5 386.2,482.5 388.4,463.8 391.2,420.0 394.5,392.5 396.2,386.2 400.0,388.8 407.5,394.5 416.2,394.5 418.8,405.0 423.8,420.0 427.5,427.5 437.5,433.0 447.5,436.2 460.0,434.5 475.0,436.2 480.0,445.0 483.8,470.0 487.5,489.8 492.5,500.0 497.5,535.0 502.5,570.0 507.5,605.0 512.5,632.5 515.5,648.8 522.5,667.5 532.5,687.5 540.0,696.2 543.8,698.8 547.5,692.5 555.0,672.5 562.5,650.0 570.0,633.8 575.0,628.2 582.5,630.0 591.2,627.5 596.2,621.2 600.0,619.2 603.8,619.2 607.5,623.8 608.8,623.8 613.8,628.8 619.9,631.9 630.0,650.0 640.0,662.5 650.0,677.5 660.0,692.5 668.8,699.5 675.0,698.8 680.0,695.0 686.2,691.2 700.0,690.8 720.0,692.5 736.2,692.0 745.0,686.2 755.0,678.8 765.0,673.8 771.2,677.5 777.5,675.0 787.5,678.0 800.0,678.8 811.2,677.0 820.0,683.8 825.0,685.0 835.0,682.5 842.5,675.0 847.5,660.0 855.0,647.5 865.0,632.5 872.5,617.5 877.5,600.0 882.5,580.0 887.5,562.5 891.2,553.8 897.5,567.5 905.0,577.5 912.5,592.5 915.0,595.0 919.8,603.8 925.0,615.0 935.0,632.5 941.2,647.5 947.5,660.0 953.8,662.5 960.0,665.0 967.5,655.0 972.5,652.5 980.0,653.8 985.0,652.5 992.5,658.8 997.5,661.2 1010.0,658.8 1020.0,653.8 1025.0,637.5 1030.0,625.0 1037.5,610.0 1042.5,600.0 1050.0,596.2 1060.0,588.8 1066.2,586.2 1075.0,588.8 1078.8,595.0 1085.0,607.5 1090.0,615.0 1097.5,620.5 1107.5,621.2 1120.0,620.0 1130.0,619.5 1142.5,616.2 1152.5,616.2 1160.0,619.5 1163.8,621.2" fill="none" stroke="#FF0000" stroke-width="1" stroke-linejoin="round" shape-rendering="crispEdges"/>
</g>
<g shape-rendering="crispEdges">
<rect x="7" y="751" width="2" height="2" fill="#000" />
<rect x="11" y="751" width="2" height="2" fill="#000" />
<rect x="15" y="751" width="2" height="2" fill="#000" />
<rect x="23" y="751" width="2" height="3" fill="#000" />
<rect x="27" y="751" width="2" height="9" fill="#000" />
<rect x="31" y="751" width="2" height="16" fill="#000" />
<rect x="35" y="751" width="2" height="15" fill="#000" />
<rect x="39" y="751" width="2" height="11" fill="#000" />
<rect x="43" y="751" width="2" height="5" fill="#000" />
<rect x="47" y="751" width="2" height="2" fill="#000" />
<rect x="59" y="750" width="2" height="1" fill="#000" />
<rect x="63" y="750" width="2" height="1" fill="#000" />
<rect x="67" y="750" width="2" height="1" fill="#000" />
<rect x="71" y="750" width="2" height="1" fill="#000" />
<rect x="75" y="750" width="2" height="1" fill="#000" />
<rect x="79" y="750" width="2" height="1" fill="#000" />
<rect x="87" y="750" width="2" height="1" fill="#000" />
<rect x="91" y="750" width="2" height="1" fill="#000" />
<rect x="95" y="750" width="2" height="1" fill="#000" />
<rect x="99" y="750" width="2" height="1" fill="#000" />
<rect x="103" y="750" width="2" height="1" fill="#000" />
<rect x="111" y="751" width="2" height="2" fill="#000" />
<rect x="115" y="751" width="2" height="2" fill="#000" />
<rect x="119" y="751" width="2" height="2" fill="#000" />
<rect x="127" y="745" width="2" height="6" fill="#000" />
<rect x="131" y="741" width="2" height="10" fill="#000" />
<rect x="135" y="739" width="2" height="12" fill="#000" />
<rect x="139" y="737" width="2" height="14" fill="#000" />
<rect x="143" y="735" width="2" height="16" fill="#000" />
<rect x="147" y="734" width="2" height="17" fill="#000" />
<rect x="151" y="734" width="2" height="17" fill="#000" />
<rect x="155" y="733" width="2" height="18" fill="#000" />
<rect x="159" y="733" width="2" height="18" fill="#000" />
<rect x="163" y="733" width="2" height="18" fill="#000" />
<rect x="167" y="733" width="2" height="18" fill="#000" />
<rect x="171" y="733" width="2" height="18" fill="#000" />
<rect x="175" y="734" width="2" height="17" fill="#000" />
<rect x="179" y="735" width="2" height="16" fill="#000" />
<rect x="183" y="736" width="2" height="15" fill="#000" />
<rect x="187" y="737" width="2" height="14" fill="#000" />
<rect x="191" y="738" width="2" height="13" fill="#000" />
<rect x="195" y="739" width="2" height="12" fill="#000" />
<rect x="199" y="739" width="2" height="12" fill="#000" />
<rect x="203" y="739" width="2" height="12" fill="#000" />
<rect x="207" y="738" width="2" height="13" fill="#000" />
<rect x="211" y="737" width="2" height="14" fill="#000" />
<rect x="215" y="735" width="2" height="16" fill="#000" />
<rect x="219" y="734" width="2" height="17" fill="#000" />
<rect x="223" y="732" width="2" height="19" fill="#000" />
<rect x="227" y="737" width="2" height="14" fill="#000" />
<rect x="231" y="742" width="2" height="9" fill="#000" />
<rect x="235" y="746" width="2" height="5" fill="#000" />
<rect x="239" y="749" width="2" height="2" fill="#000" />
<rect x="243" y="750" width="2" height="1" fill="#000" />
<rect x="247" y="750" width="2" height="1" fill="#000" />
<rect x="251" y="750" width="2" height="1" fill="#000" />
<rect x="255" y="750" width="2" height="1" fill="#000" />
<rect x="259" y="750" width="2" height="1" fill="#000" />
<rect x="263" y="750" width="2" height="1" fill="#000" />
<rect x="287" y="751" width="2" height="2" fill="#000" />
<rect x="291" y="751" width="2" height="2" fill="#000" />
<rect x="299" y="750" width="2" height="1" fill="#000" />
<rect x="303" y="748" width="2" height="3" fill="#000" />
<rect x="307" y="746" width="2" height="5" fill="#000" />
<rect x="311" y="750" width="2" height="1" fill="#000" />
<rect x="315" y="751" width="2" height="25" fill="#000" />
<rect x="319" y="751" width="2" height="48" fill="#000" />
<rect x="323" y="751" width="2" height="61" fill="#000" />
<rect x="327" y="751" width="2" height="74" fill="#000" />
<rect x="331" y="751" width="2" height="81" fill="#000" />
<rect x="335" y="751" width="2" height="82" fill="#000" />
<rect x="339" y="751" width="2" height="82" fill="#000" />
<rect x="343" y="751" width="2" height="79" fill="#000" />
<rect x="347" y="751" width="2" height="77" fill="#000" />
<rect x="351" y="751" width="2" height="74" fill="#000" />
<rect x="355" y="751" width="2" height="71" fill="#000" />
<rect x="359" y="751" width="2" height="67" fill="#000" />
<rect x="363" y="751" width="2" height="63" fill="#000" />
<rect x="367" y="751" width="2" height="60" fill="#000" />
<rect x="371" y="751" width="2" height="56" fill="#000" />
<rect x="375" y="751" width="2" height="53" fill="#000" />
<rect x="379" y="751" width="2" height="50" fill="#000" />
<rect x="383" y="751" width="2" height="48" fill="#000" />
<rect x="387" y="751" width="2" height="46" fill="#000" />
<rect x="391" y="751" width="2" height="44" fill="#000" />
<rect x="395" y="751" width="2" height="43" fill="#000" />
<rect x="399" y="751" width="2" height="42" fill="#000" />
<rect x="403" y="751" width="2" height="41" fill="#000" />
<rect x="407" y="751" width="2" height="39" fill="#000" />
<rect x="411" y="751" width="2" height="38" fill="#000" />
<rect x="415" y="751" width="2" height="36" fill="#000" />
<rect x="419" y="751" width="2" height="35" fill="#000" />
<rect x="423" y="751" width="2" height="34" fill="#000" />
<rect x="427" y="751" width="2" height="33" fill="#000" />
<rect x="431" y="751" width="2" height="32" fill="#000" />
<rect x="435" y="751" width="2" height="31" fill="#000" />
<rect x="439" y="751" width="2" height="30" fill="#000" />
<rect x="443" y="751" width="2" height="28" fill="#000" />
<rect x="447" y="751" width="2" height="27" fill="#000" />
<rect x="451" y="751" width="2" height="25" fill="#000" />
<rect x="455" y="751" width="2" height="24" fill="#000" />
<rect x="459" y="751" width="2" height="24" fill="#000" />
<rect x="463" y="751" width="2" height="23" fill="#000" />
<rect x="467" y="751" width="2" height="23" fill="#000" />
<rect x="471" y="751" width="2" height="24" fill="#000" />
<rect x="475" y="751" width="2" height="26" fill="#000" />
<rect x="479" y="751" width="2" height="31" fill="#000" />
<rect x="483" y="751" width="2" height="36" fill="#000" />
<rect x="487" y="751" width="2" height="41" fill="#000" />
<rect x="491" y="751" width="2" height="47" fill="#000" />
<rect x="495" y="751" width="2" height="53" fill="#000" />
<rect x="499" y="751" width="2" height="60" fill="#000" />
<rect x="503" y="751" width="2" height="64" fill="#000" />
<rect x="507" y="751" width="2" height="67" fill="#000" />
<rect x="511" y="751" width="2" height="68" fill="#000" />
<rect x="515" y="751" width="2" height="70" fill="#000" />
<rect x="519" y="751" width="2" height="66" fill="#000" />
<rect x="523" y="751" width="2" height="63" fill="#000" />
<rect x="527" y="751" width="2" height="60" fill="#000" />
<rect x="531" y="751" width="2" height="58" fill="#000" />
<rect x="535" y="751" width="2" height="55" fill="#000" />
<rect x="539" y="751" width="2" height="53" fill="#000" />
<rect x="543" y="751" width="2" height="50" fill="#000" />
<rect x="547" y="751" width="2" height="46" fill="#000" />
<rect x="551" y="751" width="2" height="43" fill="#000" />
<rect x="555" y="751" width="2" height="40" fill="#000" />
<rect x="559" y="751" width="2" height="37" fill="#000" />
<rect x="563" y="751" width="2" height="33" fill="#000" />
<rect x="567" y="751" width="2" height="30" fill="#000" />
<rect x="571" y="751" width="2" height="26" fill="#000" />
<rect x="575" y="751" width="2" height="23" fill="#000" />
<rect x="579" y="751" width="2" height="20" fill="#000" />
<rect x="583" y="751" width="2" height="18" fill="#000" />
<rect x="587" y="751" width="2" height="16" fill="#000" />
<rect x="591" y="751" width="2" height="14" fill="#000" />
<rect x="595" y="751" width="2" height="14" fill="#000" />
<rect x="599" y="751" width="2" height="14" fill="#000" />
<rect x="603" y="751" width="2" height="17" fill="#000" />
<rect x="607" y="751" width="2" height="19" fill="#000" />
<rect x="611" y="751" width="2" height="24" fill="#000" />
<rect x="615" y="751" width="2" height="23" fill="#000" />
<rect x="619" y="751" width="2" height="24" fill="#000" />
<rect x="623" y="751" width="2" height="26" fill="#000" />
<rect x="627" y="751" width="2" height="28" fill="#000" />
<rect x="631" y="751" width="2" height="27" fill="#000" />
<rect x="635" y="751" width="2" height="27" fill="#000" />
<rect x="639" y="751" width="2" height="27" fill="#000" />
<rect x="643" y="751" width="2" height="26" fill="#000" />
<rect x="647" y="751" width="2" height="26" fill="#000" />
<rect x="651" y="751" width="2" height="26" fill="#000" />
<rect x="655" y="751" width="2" height="26" fill="#000" />
<rect x="659" y="751" width="2" height="26" fill="#000" />
<rect x="663" y="751" width="2" height="27" fill="#000" />
<rect x="667" y="751" width="2" height="27" fill="#000" />
<rect x="671" y="751" width="2" height="26" fill="#000" />
<rect x="675" y="751" width="2" height="25" fill="#000" />
<rect x="679" y="751" width="2" height="23" fill="#000" />
<rect x="683" y="751" width="2" height="21" fill="#000" />
<rect x="687" y="751" width="2" height="16" fill="#000" />
<rect x="691" y="751" width="2" height="12" fill="#000" />
<rect x="695" y="751" width="2" height="6" fill="#000" />
<rect x="699" y="751" width="2" height="3" fill="#000" />
<rect x="703" y="751" width="2" height="3" fill="#000" />
<rect x="707" y="751" width="2" height="3" fill="#000" />
<rect x="711" y="751" width="2" height="3" fill="#000" />
<rect x="715" y="751" width="2" height="5" fill="#000" />
<rect x="719" y="751" width="2" height="8" fill="#000" />
<rect x="723" y="751" width="2" height="8" fill="#000" />
<rect x="727" y="751" width="2" height="9" fill="#000" />
<rect x="731" y="751" width="2" height="10" fill="#000" />
<rect x="735" y="751" width="2" height="11" fill="#000" />
<rect x="739" y="751" width="2" height="11" fill="#000" />
<rect x="743" y="751" width="2" height="11" fill="#000" />
<rect x="747" y="751" width="2" height="10" fill="#000" />
<rect x="751" y="751" width="2" height="8" fill="#000" />
<rect x="755" y="751" width="2" height="5" fill="#000" />
<rect x="759" y="751" width="2" height="4" fill="#000" />
<rect x="763" y="751" width="2" height="5" fill="#000" />
<rect x="767" y="751" width="2" height="6" fill="#000" />
<rect x="771" y="751" width="2" height="4" fill="#000" />
<rect x="775" y="751" width="2" height="2" fill="#000" />
<rect x="779" y="749" width="2" height="2" fill="#000" />
<rect x="783" y="746" width="2" height="5" fill="#000" />
<rect x="787" y="745" width="2" height="6" fill="#000" />
<rect x="791" y="745" width="2" height="6" fill="#000" />
<rect x="795" y="745" width="2" height="6" fill="#000" />
<rect x="799" y="745" width="2" height="6" fill="#000" />
<rect x="803" y="744" width="2" height="7" fill="#000" />
<rect x="807" y="744" width="2" height="7" fill="#000" />
<rect x="811" y="741" width="2" height="10" fill="#000" />
<rect x="815" y="734" width="2" height="17" fill="#000" />
<rect x="819" y="728" width="2" height="23" fill="#000" />
<rect x="823" y="724" width="2" height="27" fill="#000" />
<rect x="827" y="723" width="2" height="28" fill="#000" />
<rect x="831" y="723" width="2" height="28" fill="#000" />
<rect x="835" y="723" width="2" height="28" fill="#000" />
<rect x="839" y="724" width="2" height="27" fill="#000" />
<rect x="843" y="724" width="2" height="27" fill="#000" />
<rect x="847" y="725" width="2" height="26" fill="#000" />
<rect x="851" y="725" width="2" height="26" fill="#000" />
<rect x="855" y="725" width="2" height="26" fill="#000" />
<rect x="859" y="726" width="2" height="25" fill="#000" />
<rect x="863" y="726" width="2" height="25" fill="#000" />
<rect x="867" y="726" width="2" height="25" fill="#000" />
<rect x="871" y="726" width="2" height="25" fill="#000" />
<rect x="875" y="729" width="2" height="22" fill="#000" />
<rect x="879" y="731" width="2" height="20" fill="#000" />
<rect x="883" y="732" width="2" height="19" fill="#000" />
<rect x="887" y="734" width="2" height="17" fill="#000" />
<rect x="891" y="740" width="2" height="11" fill="#000" />
<rect x="895" y="747" width="2" height="4" fill="#000" />
<rect x="903" y="751" width="2" height="2" fill="#000" />
<rect x="907" y="751" width="2" height="4" fill="#000" />
<rect x="911" y="751" width="2" height="6" fill="#000" />
<rect x="915" y="751" width="2" height="9" fill="#000" />
<rect x="919" y="751" width="2" height="11" fill="#000" />
<rect x="923" y="751" width="2" height="12" fill="#000" />
<rect x="927" y="751" width="2" height="13" fill="#000" />
<rect x="931" y="751" width="2" height="14" fill="#000" />
<rect x="935" y="751" width="2" height="14" fill="#000" />
<rect x="939" y="751" width="2" height="17" fill="#000" />
<rect x="943" y="751" width="2" height="22" fill="#000" />
<rect x="947" y="751" width="2" height="26" fill="#000" />
<rect x="951" y="751" width="2" height="21" fill="#000" />
<rect x="955" y="751" width="2" height="18" fill="#000" />
<rect x="959" y="751" width="2" height="18" fill="#000" />
<rect x="963" y="751" width="2" height="15" fill="#000" />
<rect x="967" y="751" width="2" height="8" fill="#000" />
<rect x="971" y="751" width="2" height="4" fill="#000" />
<rect x="975" y="751" width="2" height="2" fill="#000" />
<rect x="983" y="749" width="2" height="2" fill="#000" />
<rect x="987" y="744" width="2" height="7" fill="#000" />
<rect x="991" y="742" width="2" height="9" fill="#000" />
<rect x="995" y="739" width="2" height="12" fill="#000" />
<rect x="999" y="745" width="2" height="6" fill="#000" />
<rect x="1003" y="745" width="2" height="6" fill="#000" />
<rect x="1007" y="745" width="2" height="6" fill="#000" />
<rect x="1011" y="745" width="2" height="6" fill="#000" />
<rect x="1015" y="746" width="2" height="5" fill="#000" />
<rect x="1019" y="747" width="2" height="4" fill="#000" />
<rect x="1023" y="748" width="2" height="3" fill="#000" />
<rect x="1027" y="747" width="2" height="4" fill="#000" />
<rect x="1031" y="746" width="2" height="5" fill="#000" />
<rect x="1035" y="745" width="2" height="6" fill="#000" />
<rect x="1039" y="744" width="2" height="7" fill="#000" />
<rect x="1043" y="744" width="2" height="7" fill="#000" />
<rect x="1047" y="744" width="2" height="7" fill="#000" />
<rect x="1051" y="743" width="2" height="8" fill="#000" />
<rect x="1055" y="743" width="2" height="8" fill="#000" />
<rect x="1059" y="743" width="2" height="8" fill="#000" />
<rect x="1063" y="744" width="2" height="7" fill="#000" />
<rect x="1067" y="745" width="2" height="6" fill="#000" />
<rect x="1071" y="747" width="2" height="4" fill="#000" />
<rect x="1079" y="751" width="2" height="9" fill="#000" />
<rect x="1083" y="751" width="2" height="11" fill="#000" />
<rect x="1087" y="751" width="2" height="14" fill="#000" />
<rect x="1091" y="751" width="2" height="10" fill="#000" />
<rect x="1095" y="751" width="2" height="9" fill="#000" />
<rect x="1099" y="751" width="2" height="8" fill="#000" />
<rect x="1103" y="751" width="2" height="2" fill="#000" />
<rect x="1107" y="751" width="2" height="2" fill="#000" />
<rect x="1131" y="750" width="2" height="1" fill="#000" />
<rect x="1135" y="750" width="2" height="1" fill="#000" />
<rect x="1139" y="750" width="2" height="1" fill="#000" />
<rect x="1143" y="750" width="2" height="1" fill="#000" />
<rect x="1147" y="750" width="2" height="1" fill="#000" />
<rect x="1151" y="750" width="2" height="1" fill="#000" />
<rect x="1155" y="748" width="2" height="3" fill="#000" />
<rect x="1159" y="744" width="2" height="7" fill="#000" />
<rect x="1163" y="739" width="2" height="12" fill="#000" />
</g>
<polyline points="4.2,757.7 12.5,755.0 20.8,752.2 25.0,751.4 29.2,755.0 35.4,759.8 43.8,761.8 50.0,758.1 58.3,752.2 64.6,750.2 83.3,751.2 100.0,750.2 116.7,752.9 125.0,754.3 133.3,749.8 141.7,742.5 150.0,736.8 160.4,734.1 168.8,733.1 179.2,734.8 191.7,738.3 202.1,741.8 212.5,742.5 220.8,739.3 228.1,736.8 235.4,738.3 241.7,743.5 250.0,748.7 258.3,749.8 277.1,750.2 287.5,752.2 295.8,753.5 304.2,750.8 311.5,749.8 316.7,755.0 321.9,768.5 327.1,787.2 332.3,806.0 337.5,821.6 343.8,830.0 352.1,830.0 358.3,825.8 366.7,817.5 375.0,810.2 385.4,801.8 399.8,795.6 410.4,791.8 425.0,790.4 437.5,789.3 445.8,785.2 454.2,778.9 466.7,774.3 475.0,773.1 481.2,774.8 487.5,782.0 495.8,791.4 504.2,805.0 512.5,813.3 518.8,816.8 525.0,816.8 533.3,813.3 541.7,807.0 550.0,802.2 558.3,794.5 566.7,787.2 577.1,778.9 587.5,770.6 595.8,766.8 603.1,765.4 608.3,766.8 616.7,770.6 625.0,774.3 639.6,777.9 660.4,778.5 677.1,778.9 689.6,773.7 697.9,765.4 704.2,759.1 712.5,755.6 725.0,757.0 737.5,760.2 745.8,761.2 752.1,761.2 760.4,757.0 770.8,755.6 781.2,753.9 789.6,748.7 799.8,744.5 810.4,743.5 818.8,738.3 827.1,730.0 835.4,724.8 843.8,723.7 852.1,725.8 877.1,725.8 889.6,730.0 900.0,739.3 910.4,750.8 920.8,758.1 929.2,761.8 937.5,763.3 945.8,767.5 954.2,771.0 962.5,771.0 968.8,766.4 977.1,759.1 987.5,750.8 997.9,744.5 1006.2,742.5 1016.7,745.6 1027.1,748.7 1037.5,748.7 1050.0,745.6 1060.4,743.5 1070.8,744.5 1079.2,749.8 1085.4,755.6 1091.7,760.2 1097.9,761.2 1104.2,760.6 1112.5,756.0 1122.9,751.8 1133.3,750.2 1143.8,749.3 1154.2,749.3 1160.4,748.7 1164.6,747.2" fill="none" stroke="#FF0000" stroke-width="3" stroke-linejoin="round" stroke-linecap="round"/>
<polyline points="5.0,906.2 7.5,900.0 16.2,899.5 20.0,902.5 23.8,902.5 27.5,915.0 31.2,923.8 33.8,922.5 37.5,905.0 40.0,898.0 46.2,900.0 60.0,898.8 63.8,898.0 68.8,903.8 76.2,904.5 80.0,898.8 83.8,895.5 90.0,900.5 100.0,900.0 103.8,901.2 108.8,907.5 115.0,901.2 121.2,907.0 123.8,900.0" fill="none" stroke="#FF0000" stroke-width="3.4" stroke-linejoin="round" stroke-linecap="round"/>
<polyline points="123.8,900.0 128.8,888.0 136.2,887.5 140.0,890.0 145.0,886.2 150.0,887.0 160.0,885.0 167.5,884.0 172.5,887.5 177.5,888.0 183.8,892.5 191.2,891.2 197.5,898.8 202.5,895.0 211.2,883.0 216.2,891.2 220.0,880.5 225.0,882.5 228.0,901.2 235.0,902.0 240.0,905.0 247.5,900.0 255.0,900.0 262.5,898.0 272.5,903.8 280.0,905.0 287.5,906.2 293.8,903.8 300.0,895.0 307.5,890.0 310.0,893.8 312.0,901.2" fill="none" stroke="#008000" stroke-width="3.4" stroke-linejoin="round" stroke-linecap="round"/>
<polyline points="312.0,901.2 314.5,922.5 316.2,936.2 320.0,939.5 325.0,938.8 332.5,940.0 336.2,931.2 340.0,933.0 346.2,927.5 362.5,927.5 370.0,923.8 382.5,923.8 388.8,928.8 393.8,918.8 402.5,922.0 408.8,921.2 412.5,912.5 420.0,925.0 423.8,916.2 428.8,915.0 433.8,910.5 445.0,909.5 460.0,910.5 467.5,910.0 475.0,916.2 474.2,916.0 480.4,917.5 484.6,928.5 487.7,927.9 492.9,932.7 500.2,935.8 504.4,933.8 508.5,934.8 512.7,932.7 516.9,933.3 520.0,922.9 525.2,922.3 528.3,920.8 532.5,922.3 540.8,921.2 544.0,922.3 548.1,911.9 557.5,912.5 561.7,909.8 571.0,908.8 576.2,905.0 581.5,905.6 584.6,903.1 589.8,905.6 595.0,905.6 597.1,903.5 602.3,908.8 608.5,918.1 612.1,921.7 615.8,908.8 620.0,911.9 627.3,916.7 640.8,916.7 646.0,914.6 653.3,919.6 660.0,923.3 664.8,920.8 672.1,914.0 676.2,918.1 680.4,910.8 684.6,911.9 687.7,901.5 691.9,900.8 696.0,893.1 699.2,893.8 704.4,900.8 709.6,900.8 720.0,907.1 724.2,900.4 729.4,905.6 735.6,909.8 740.8,906.2 748.1,903.5 756.5,895.2 761.7,900.8 765.8,902.5 768.3,911.2 772.1,895.8 776.2,900.8 781.5,893.1 786.7,893.8 794.0,896.7 800.2,893.1 804.4,898.3 811.7,890.0" fill="none" stroke="#FF0000" stroke-width="3.4" stroke-linejoin="round" stroke-linecap="round"/>
<polyline points="811.7,890.0 815.8,882.7 822.1,880.6 830.4,880.6 834.6,881.7 839.8,884.8 845.0,884.4 853.3,880.0 861.7,880.6 867.9,877.9 868.3,877.9 872.5,881.7 877.7,886.9 880.4,893.8 884.0,890.0 889.2,890.0 893.3,903.5 897.1,910.8 904.2,903.5 912.1,911.2" fill="none" stroke="#008000" stroke-width="3.4" stroke-linejoin="round" stroke-linecap="round"/>
<polyline points="912.1,911.2 922.5,913.3 930.8,914.6 937.1,913.3 940.2,917.1 944.4,926.5 948.5,926.5 951.7,908.8 955.8,909.8 960.0,911.9 964.2,902.5 968.3,895.8 972.5,900.8 976.2,895.2 980.8,900.8 985.0,897.3 991.2,891.0" fill="none" stroke="#FF0000" stroke-width="3.4" stroke-linejoin="round" stroke-linecap="round"/>
<polyline points="991.2,891.0 996.5,890.4 1001.7,900.4 1009.0,899.0 1012.1,900.8 1020.4,897.3 1024.6,898.3 1030.8,896.7 1036.0,900.8 1040.2,891.0 1047.5,895.8 1059.0,894.6 1068.3,902.1 1075.6,906.7" fill="none" stroke="#008000" stroke-width="3.4" stroke-linejoin="round" stroke-linecap="round"/>
<polyline points="1075.6,906.7 1080.8,916.0 1084.6,912.9 1088.8,916.0 1092.3,905.6 1099.6,903.5 1105.8,895.8 1109.0,896.2 1113.1,900.8 1120.4,900.8 1131.9,895.8 1136.0,899.0 1140.2,896.7 1148.5,900.0 1155.8,907.7" fill="none" stroke="#FF0000" stroke-width="3.4" stroke-linejoin="round" stroke-linecap="round"/>
<polyline points="1155.8,908.3 1158.3,892.1 1160.0,884.8 1164.6,884.8" fill="none" stroke="#008000" stroke-width="3.4" stroke-linejoin="round" stroke-linecap="round"/>
<g shape-rendering="crispEdges" fill="#000">
<rect x="4" y="1" width="1837" height="1" fill="#000" />
<rect x="4" y="1" width="1" height="709" fill="#000" />
<rect x="4" y="711" width="1" height="134" fill="#000" />
<rect x="4" y="846" width="1" height="110" fill="#000" />
<rect x="1840" y="1" width="1" height="709" fill="#000" />
<rect x="1840" y="711" width="1" height="134" fill="#000" />
<rect x="1840" y="846" width="1" height="110" fill="#000" />
<rect x="4" y="709" width="1836" height="1" fill="#000" />
<rect x="4" y="711" width="1836" height="1" fill="#000" />
<rect x="4" y="844" width="1836" height="1" fill="#000" />
<rect x="4" y="846" width="1836" height="1" fill="#000" />
<rect x="4" y="955" width="1837" height="1" fill="#000" />
<rect x="1841" y="2" width="4" height="1" fill="#000" />
<rect x="1841" y="66" width="4" height="1" fill="#000" />
<rect x="1841" y="131" width="4" height="1" fill="#000" />
<rect x="1841" y="195" width="4" height="1" fill="#000" />
<rect x="1841" y="259" width="4" height="1" fill="#000" />
<rect x="1841" y="323" width="4" height="1" fill="#000" />
<rect x="1841" y="388" width="4" height="1" fill="#000" />
<rect x="1841" y="452" width="4" height="1" fill="#000" />
<rect x="1841" y="516" width="2" height="1" fill="#000" />
<rect x="1841" y="580" width="4" height="1" fill="#000" />
<rect x="1841" y="645" width="4" height="1" fill="#000" />
<rect x="1841" y="712" width="4" height="1" fill="#000" />
<rect x="1841" y="751" width="4" height="1" fill="#000" />
<rect x="1841" y="843" width="4" height="1" fill="#000" />
<rect x="1841" y="847" width="4" height="1" fill="#000" />
<rect x="1841" y="879" width="4" height="1" fill="#000" />
<rect x="1841" y="900" width="4" height="1" fill="#000" />
<rect x="1841" y="922" width="4" height="1" fill="#000" />
<rect x="1841" y="954" width="4" height="1" fill="#000" />
<rect x="4" y="955" width="1" height="6" fill="#000" />
<rect x="132" y="955" width="1" height="6" fill="#000" />
<rect x="260" y="955" width="1" height="6" fill="#000" />
<rect x="388" y="955" width="1" height="6" fill="#000" />
<rect x="516" y="955" width="1" height="6" fill="#000" />
<rect x="644" y="955" width="1" height="6" fill="#000" />
<rect x="772" y="955" width="1" height="6" fill="#000" />
<rect x="900" y="955" width="1" height="6" fill="#000" />
<rect x="1028" y="955" width="1" height="6" fill="#000" />
<rect x="1156" y="955" width="1" height="6" fill="#000" />
</g>
<polygon points="1156.5,2 1172.5,2 1164.5,10.5" fill="#000"/>
<rect x="5" y="712" width="220" height="21" fill="#fff" />
<rect x="5" y="847" width="92" height="22" fill="#fff" />
<g shape-rendering="crispEdges">
<rect x="1843" y="506" width="60" height="1" fill="#E8605A" />
<rect x="1843" y="507" width="60" height="17" fill="#26A69A" />
</g>
<text x="72.1" y="22.8" font-size="14.6" fill="#000"  textLength="69.77" lengthAdjust="spacingAndGlyphs" xml:space="preserve">EURUSD.b,</text>
<text x="145.15" y="22.8" font-size="14.6" fill="#000"  textLength="21.64" lengthAdjust="spacingAndGlyphs" xml:space="preserve">H1:</text>
<text x="174.79" y="22.8" font-size="14.6" fill="#000"  textLength="29.66" lengthAdjust="spacingAndGlyphs" xml:space="preserve">Euro</text>
<text x="209.25" y="22.8" font-size="14.6" fill="#000"  textLength="12.40" lengthAdjust="spacingAndGlyphs" xml:space="preserve">vs</text>
<text x="225.24" y="22.8" font-size="14.6" fill="#000"  textLength="17.40" lengthAdjust="spacingAndGlyphs" xml:space="preserve">US</text>
<text x="247.12" y="22.8" font-size="14.6" fill="#000"  textLength="33.49" lengthAdjust="spacingAndGlyphs" xml:space="preserve">Dollar</text>
<text x="290.94" y="22.8" font-size="14.6" fill="#000"  textLength="50.44" lengthAdjust="spacingAndGlyphs" xml:space="preserve">1.06796</text>
<text x="347.14" y="22.8" font-size="14.6" fill="#000"  textLength="50.49" lengthAdjust="spacingAndGlyphs" xml:space="preserve">1.06799</text>
<text x="402.78" y="22.8" font-size="14.6" fill="#000"  textLength="51.01" lengthAdjust="spacingAndGlyphs" xml:space="preserve">1.06706</text>
<text x="459.04" y="22.8" font-size="14.6" fill="#000"  textLength="50.44" lengthAdjust="spacingAndGlyphs" xml:space="preserve">1.06781</text>
<text x="6.82" y="728.5" font-size="14.6" fill="#000"  textLength="87.18" lengthAdjust="spacingAndGlyphs" xml:space="preserve">MACD(5,34,5)</text>
<text x="98.75" y="728.5" font-size="14.6" fill="#000"  textLength="59.86" lengthAdjust="spacingAndGlyphs" xml:space="preserve">0.001065</text>
<text x="162.5" y="728.5" font-size="14.6" fill="#000"  textLength="60.27" lengthAdjust="spacingAndGlyphs" xml:space="preserve">0.000355</text>
<text x="6.56" y="863.7" font-size="14.6" fill="#000"  textLength="47.41" lengthAdjust="spacingAndGlyphs" xml:space="preserve">RSI(14)</text>
<text x="57.75" y="863.7" font-size="14.6" fill="#000"  textLength="36.53" lengthAdjust="spacingAndGlyphs" xml:space="preserve">63.76</text>
<text x="1170.71" y="539.5" font-size="26.2" fill="#000"  font-weight="bold" textLength="103.40" lengthAdjust="spacingAndGlyphs" xml:space="preserve">00:48:40</text>
<text x="1275.65" y="539.5" font-size="26.2" fill="#000"  font-weight="bold" textLength="6.05" lengthAdjust="spacingAndGlyphs" xml:space="preserve">|</text>
<text x="1283.14" y="539.5" font-size="26.2" fill="#000"  font-weight="bold" textLength="124.56" lengthAdjust="spacingAndGlyphs" xml:space="preserve">EURUSD.b</text>
<text x="1408.45" y="539.5" font-size="26.2" fill="#000"  font-weight="bold" textLength="6.05" lengthAdjust="spacingAndGlyphs" xml:space="preserve">|</text>
<text x="1415.94" y="539.5" font-size="26.2" fill="#000"  font-weight="bold" textLength="31.22" lengthAdjust="spacingAndGlyphs" xml:space="preserve">H1</text>
<text x="1847.34" y="8" font-size="14.6" fill="#000"  textLength="50.59" lengthAdjust="spacingAndGlyphs" xml:space="preserve">1.08895</text>
<text x="1847.34" y="72" font-size="14.6" fill="#000"  textLength="50.59" lengthAdjust="spacingAndGlyphs" xml:space="preserve">1.08630</text>
<text x="1847.34" y="137" font-size="14.6" fill="#000"  textLength="50.59" lengthAdjust="spacingAndGlyphs" xml:space="preserve">1.08365</text>
<text x="1847.34" y="201" font-size="14.6" fill="#000"  textLength="50.59" lengthAdjust="spacingAndGlyphs" xml:space="preserve">1.08100</text>
<text x="1847.34" y="265" font-size="14.6" fill="#000"  textLength="50.59" lengthAdjust="spacingAndGlyphs" xml:space="preserve">1.07835</text>
<text x="1847.34" y="329" font-size="14.6" fill="#000"  textLength="50.59" lengthAdjust="spacingAndGlyphs" xml:space="preserve">1.07570</text>
<text x="1847.34" y="394" font-size="14.6" fill="#000"  textLength="50.59" lengthAdjust="spacingAndGlyphs" xml:space="preserve">1.07305</text>
<text x="1847.34" y="458" font-size="14.6" fill="#000"  textLength="50.59" lengthAdjust="spacingAndGlyphs" xml:space="preserve">1.07040</text>
<text x="1847.34" y="586" font-size="14.6" fill="#000"  textLength="50.59" lengthAdjust="spacingAndGlyphs" xml:space="preserve">1.06510</text>
<text x="1847.34" y="651" font-size="14.6" fill="#000"  textLength="50.59" lengthAdjust="spacingAndGlyphs" xml:space="preserve">1.06245</text>
<text x="1845.6" y="725" font-size="14.6" fill="#000"  textLength="58.64" lengthAdjust="spacingAndGlyphs" xml:space="preserve">0.003468</text>
<text x="1845.6" y="756.5" font-size="14.6" fill="#000"  textLength="58.64" lengthAdjust="spacingAndGlyphs" xml:space="preserve">0.000000</text>
<text x="1844.63" y="841.2" font-size="14.6" fill="#000"  textLength="63.68" lengthAdjust="spacingAndGlyphs" xml:space="preserve">-0.007981</text>
<text x="1846.42" y="860" font-size="14.6" fill="#000"  textLength="43.91" lengthAdjust="spacingAndGlyphs" xml:space="preserve">100.00</text>
<text x="1845.41" y="885" font-size="14.6" fill="#000"  textLength="36.01" lengthAdjust="spacingAndGlyphs" xml:space="preserve">70.00</text>
<text x="1845.41" y="906" font-size="14.6" fill="#000"  textLength="36.01" lengthAdjust="spacingAndGlyphs" xml:space="preserve">50.00</text>
<text x="1845.41" y="928" font-size="14.6" fill="#000"  textLength="36.01" lengthAdjust="spacingAndGlyphs" xml:space="preserve">30.00</text>
<text x="1845.6" y="952" font-size="14.6" fill="#000"  textLength="27.39" lengthAdjust="spacingAndGlyphs" xml:space="preserve">0.00</text>
<text x="1847.83" y="521" font-size="14.6" fill="#fff"  textLength="51.21" lengthAdjust="spacingAndGlyphs" xml:space="preserve">1.06781</text>
<text x="4.3" y="973" font-size="14.6" fill="#000"  textLength="68.15" lengthAdjust="spacingAndGlyphs" xml:space="preserve">5 Apr 2024</text>
<text x="132.3" y="973" font-size="14.6" fill="#000"  textLength="73.84" lengthAdjust="spacingAndGlyphs" xml:space="preserve">8 Apr 17:00</text>
<text x="260.3" y="973" font-size="14.6" fill="#000"  textLength="81.35" lengthAdjust="spacingAndGlyphs" xml:space="preserve">10 Apr 01:00</text>
<text x="388.3" y="973" font-size="14.6" fill="#000"  textLength="81.28" lengthAdjust="spacingAndGlyphs" xml:space="preserve">11 Apr 09:00</text>
<text x="516.3" y="973" font-size="14.6" fill="#000"  textLength="81.35" lengthAdjust="spacingAndGlyphs" xml:space="preserve">12 Apr 17:00</text>
<text x="644.3" y="973" font-size="14.6" fill="#000"  textLength="81.35" lengthAdjust="spacingAndGlyphs" xml:space="preserve">16 Apr 01:00</text>
<text x="772.3" y="973" font-size="14.6" fill="#000"  textLength="81.35" lengthAdjust="spacingAndGlyphs" xml:space="preserve">17 Apr 09:00</text>
<text x="900.3" y="973" font-size="14.6" fill="#000"  textLength="81.35" lengthAdjust="spacingAndGlyphs" xml:space="preserve">18 Apr 17:00</text>
<text x="1028.3" y="973" font-size="14.6" fill="#000"  textLength="81.35" lengthAdjust="spacingAndGlyphs" xml:space="preserve">22 Apr 01:00</text>
<text x="1156.3" y="973" font-size="14.6" fill="#000"  textLength="81.35" lengthAdjust="spacingAndGlyphs" xml:space="preserve">23 Apr 09:00</text>
<g fill="none" stroke-width="1.4">
<path d="M23.6,10.2 H15 a2,2 0 0 0 -2,2 V23 a2,2 0 0 0 2,2 H23.6" stroke="#D9372F"/>
<path d="M23.6,10.2 H32.3 a2,2 0 0 1 2,2 V23 a2,2 0 0 1 -2,2 H23.6" stroke="#0B62A8"/>
<rect x="15" y="13" width="8" height="9.4" fill="#FFE6DF" stroke="none"/><rect x="24.2" y="13" width="8" height="9.4" fill="#D3EBFF" stroke="none"/>
<path d="M15.5,13.3 H22.5 M15.5,17.7 H22.5 M15.5,22.2 H22.5" stroke="#D9372F" stroke-width="1.5"/>
<path d="M24.6,13.3 H31.6 M24.6,17.7 H31.6 M24.6,22.2 H31.6" stroke="#0B62A8" stroke-width="1.5"/>
<path d="M45.6,11.5 a1.3,1.3 0 0 1 1.3,-1.3 h1.8 a1.3,1.3 0 0 1 1.3,1.3 v4.6 h3 a1.3,1.3 0 0 1 1.3,1.3 v6.8 a1.3,1.3 0 0 1 -1.3,1.3 h-6.1 a1.3,1.3 0 0 1 -1.3,-1.3 z" stroke="#D9372F" fill="#FFDFD6"/>
<path d="M66,11.5 a1.3,1.3 0 0 0 -1.3,-1.3 h-1.8 a1.3,1.3 0 0 0 -1.3,1.3 v4.6 h-3 a1.3,1.3 0 0 0 -1.3,1.3 v6.8 a1.3,1.3 0 0 0 1.3,1.3 h6.1 a1.3,1.3 0 0 0 1.3,-1.3 z" stroke="#0B62A8" fill="#BFE3FF"/>
<rect x="52.8" y="10.3" width="6" height="3" rx="1.2" stroke="#9A9A9A" stroke-width="1.2"/>
</g>
</svg></body></html>
